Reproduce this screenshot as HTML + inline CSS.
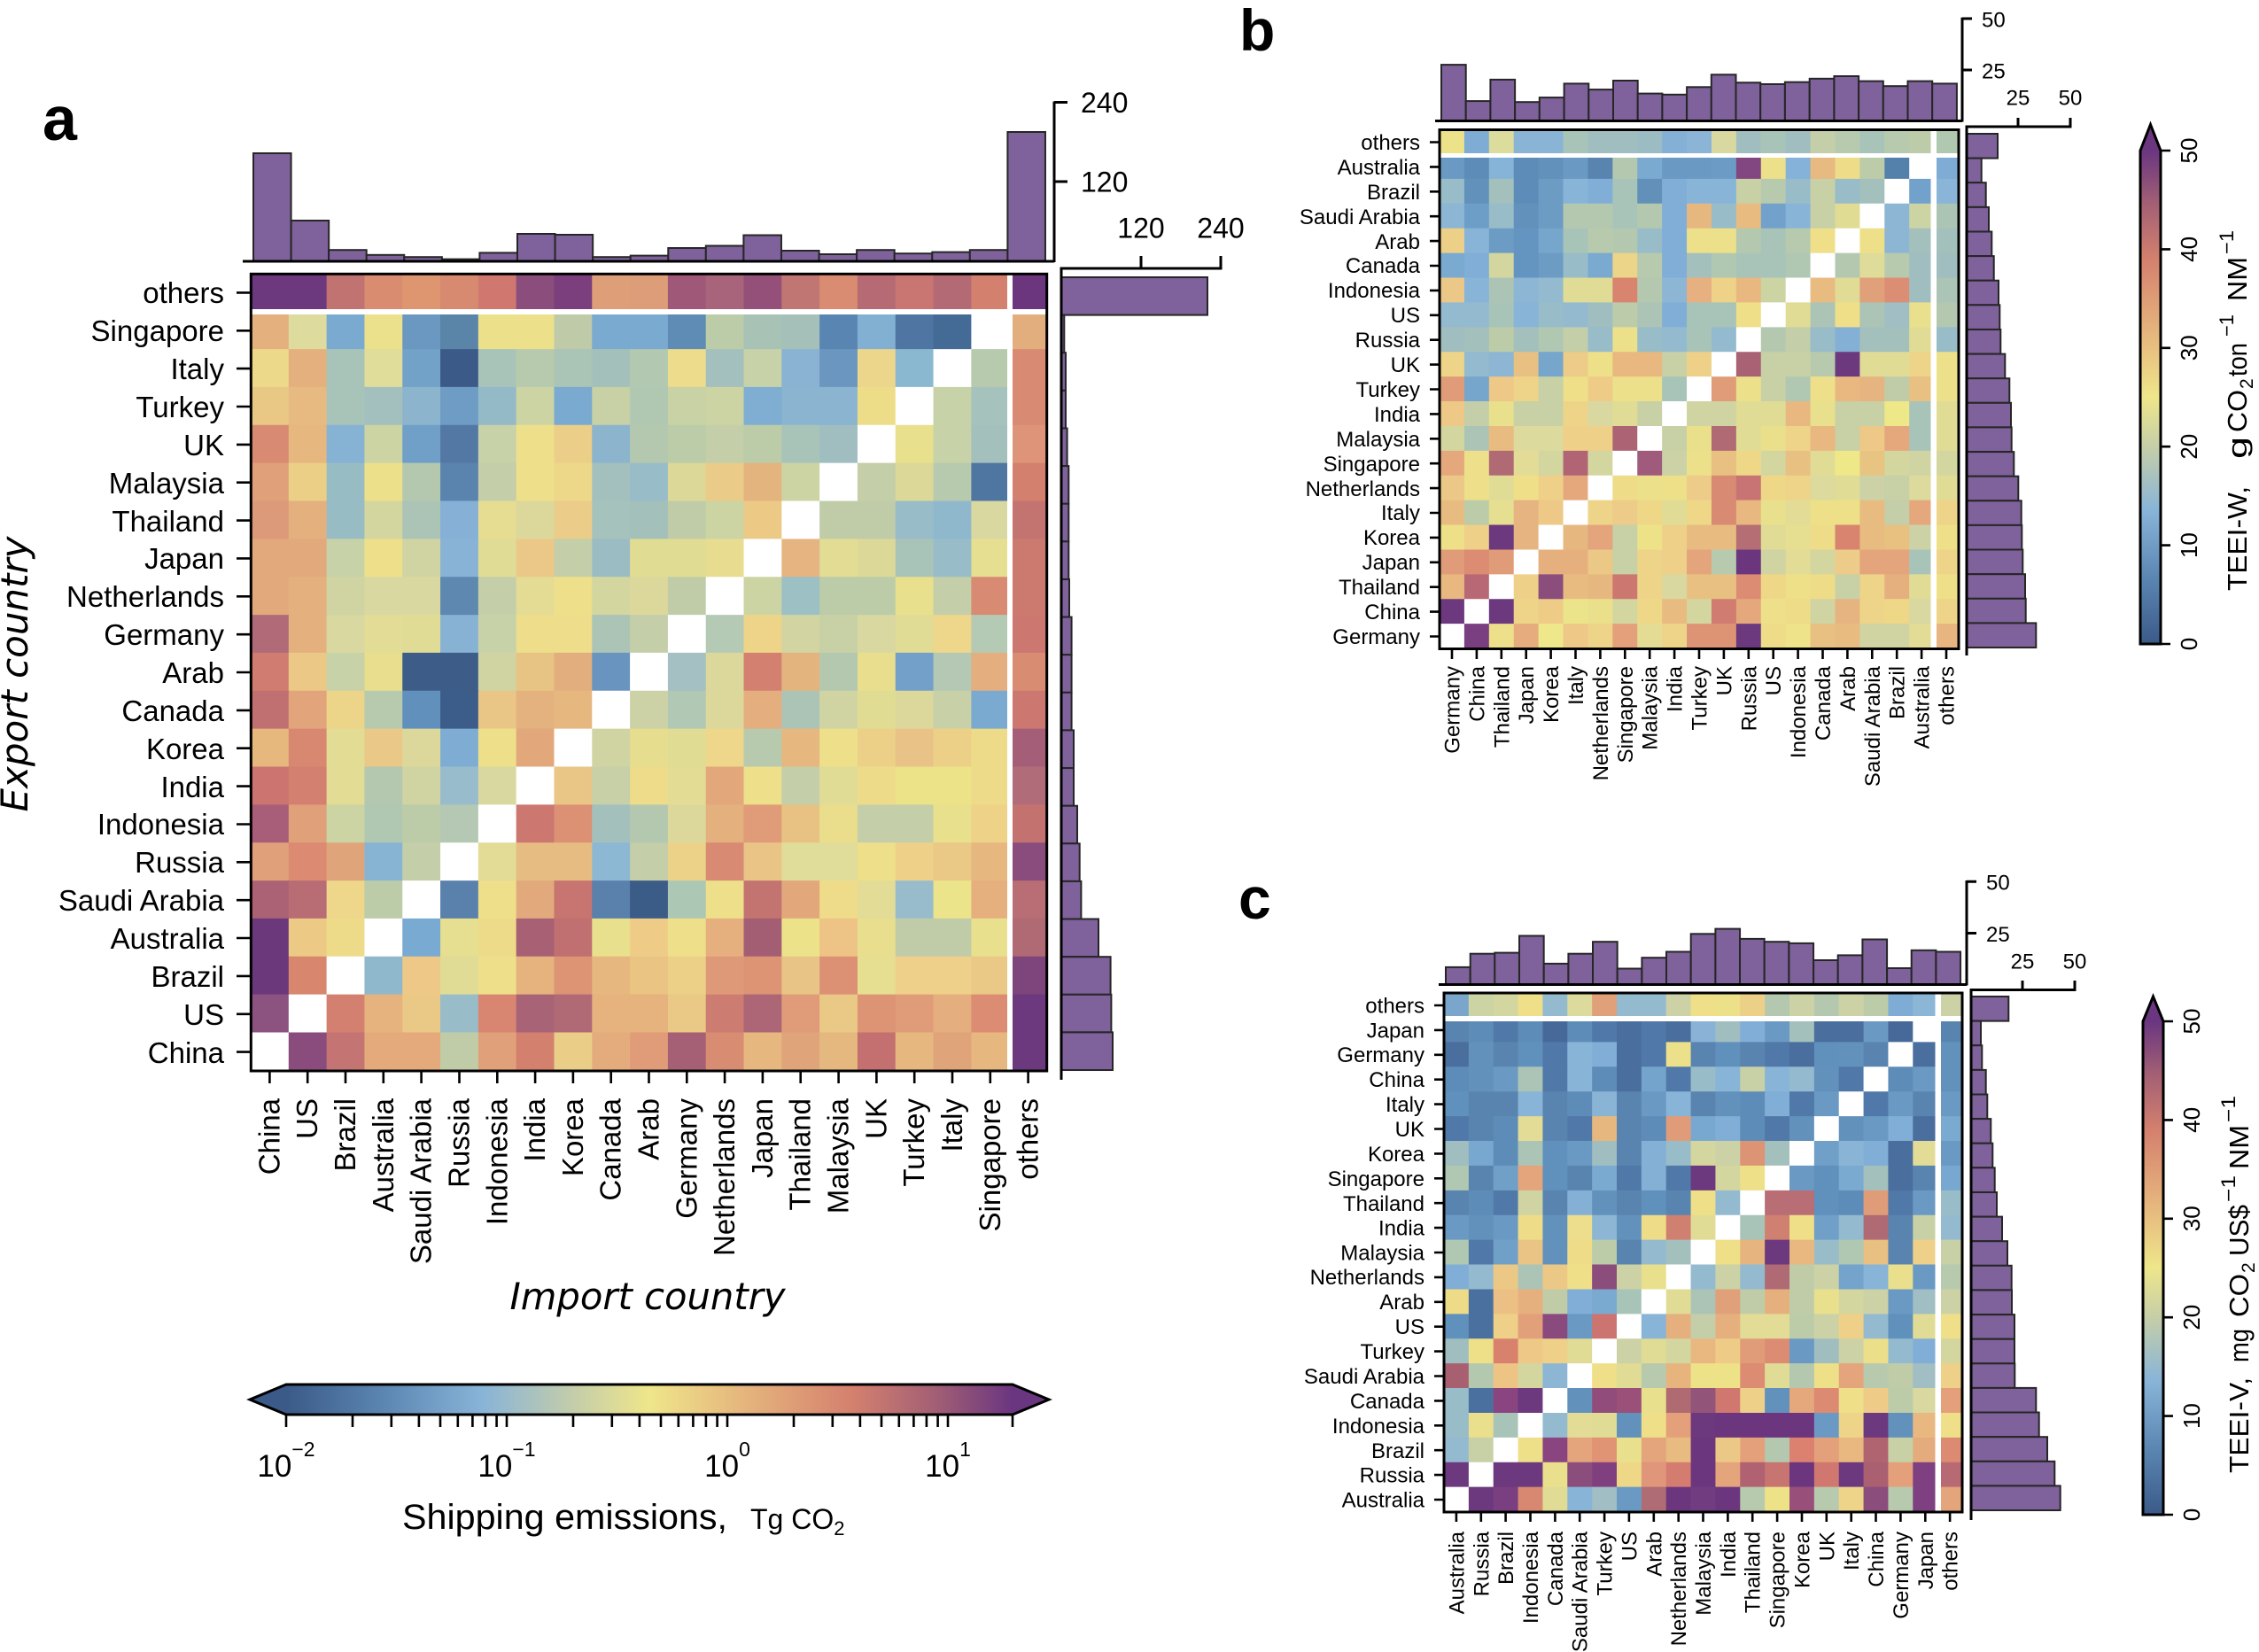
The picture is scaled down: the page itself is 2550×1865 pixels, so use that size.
<!DOCTYPE html>
<html><head><meta charset="utf-8"><style>
body{margin:0;background:#fff}
svg{display:block}
text{font-family:"Liberation Sans",Arial,Helvetica,sans-serif;fill:#000}
.hb{fill:#7f619b;stroke:#262626;stroke-width:2}
.ax{stroke:#000;fill:none;stroke-width:3}
.tk{stroke:#000;fill:none;stroke-width:2.6}
</style></head><body>
<svg width="2550" height="1865" viewBox="0 0 2550 1865" xmlns="http://www.w3.org/2000/svg">
<defs>
<linearGradient id="gh" x1="0" x2="1" y1="0" y2="0">
<stop offset="0" stop-color="#3b5a88"/><stop offset=".14" stop-color="#5d88b4"/><stop offset=".27" stop-color="#88b4d8"/><stop offset=".40" stop-color="#c6cea8"/><stop offset=".50" stop-color="#eee68a"/><stop offset=".60" stop-color="#e8c080"/><stop offset=".70" stop-color="#de9c76"/><stop offset=".78" stop-color="#d4806e"/><stop offset=".89" stop-color="#a46074"/><stop offset="1" stop-color="#6a3680"/>
</linearGradient>
<linearGradient id="gv" x1="0" x2="0" y1="1" y2="0">
<stop offset="0" stop-color="#3b5a88"/><stop offset=".14" stop-color="#5d88b4"/><stop offset=".27" stop-color="#88b4d8"/><stop offset=".40" stop-color="#c6cea8"/><stop offset=".50" stop-color="#eee68a"/><stop offset=".60" stop-color="#e8c080"/><stop offset=".70" stop-color="#de9c76"/><stop offset=".78" stop-color="#d4806e"/><stop offset=".89" stop-color="#a46074"/><stop offset="1" stop-color="#6a3680"/>
</linearGradient>
</defs>
<rect width="2550" height="1865" fill="#fff"/>

<!-- ================= PANEL A ================= -->
<text x="48" y="158" font-size="70" font-weight="bold">a</text>

<svg x="283" y="309" width="899" height="900" viewBox="0 0 21 21" preserveAspectRatio="none" stroke-width="1.03" fill="none">
<g transform="translate(0,.5)"><path d="M0 0h1.03" stroke="#6c387e"/><path d="M1 0h1.03" stroke="#6c387e"/><path d="M2 0h1.03" stroke="#c07370"/><path d="M3 0h1.03" stroke="#d98c70"/><path d="M4 0h1.03" stroke="#dd9670"/><path d="M5 0h1.03" stroke="#d88a70"/><path d="M6 0h1.03" stroke="#d07870"/><path d="M7 0h1.03" stroke="#8a4d7c"/><path d="M8 0h1.03" stroke="#7a3f7c"/><path d="M9 0h1.03" stroke="#de9f78"/><path d="M10 0h1.03" stroke="#dd9d78"/><path d="M11 0h1.03" stroke="#a05878"/><path d="M12 0h1.03" stroke="#a8647a"/><path d="M13 0h1.03" stroke="#945078"/><path d="M14 0h1.03" stroke="#c07672"/><path d="M15 0h1.03" stroke="#da8c72"/><path d="M16 0h1.03" stroke="#b56a74"/><path d="M17 0h1.03" stroke="#c97672"/><path d="M18 0h1.03" stroke="#b36a74"/><path d="M19 0h1.03" stroke="#d4806e"/><path d="M20 0h1.03" stroke="#6c367e"/></g>
<g transform="translate(0,1.5)"><path d="M0 0h1.03" stroke="#e3b07e"/><path d="M1 0h1.03" stroke="#dddc9e"/><path d="M2 0h1.03" stroke="#7aaacf"/><path d="M3 0h1.03" stroke="#ebe08c"/><path d="M4 0h1.03" stroke="#6a98c0"/><path d="M5 0h1.03" stroke="#5a84a8"/><path d="M6 0h1.03" stroke="#ede08a"/><path d="M7 0h1.03" stroke="#ede08a"/><path d="M8 0h1.03" stroke="#bfcba8"/><path d="M9 0h1.03" stroke="#7aaacf"/><path d="M10 0h1.03" stroke="#7aaacf"/><path d="M11 0h1.03" stroke="#5f8cb5"/><path d="M12 0h1.03" stroke="#bccca8"/><path d="M13 0h1.03" stroke="#a8c2b6"/><path d="M14 0h1.03" stroke="#a4c0b8"/><path d="M15 0h1.03" stroke="#5985b2"/><path d="M16 0h1.03" stroke="#82b0d3"/><path d="M17 0h1.03" stroke="#4f76a3"/><path d="M18 0h1.03" stroke="#446a96"/><path d="M19 0h1.03" stroke="#ffffff"/><path d="M20 0h1.03" stroke="#e3ae7e"/></g>
<g transform="translate(0,2.5)"><path d="M0 0h1.03" stroke="#ecd98a"/><path d="M1 0h1.03" stroke="#e4b07e"/><path d="M2 0h1.03" stroke="#a8c4b8"/><path d="M3 0h1.03" stroke="#e0dc9a"/><path d="M4 0h1.03" stroke="#72a2c8"/><path d="M5 0h1.03" stroke="#3c5a88"/><path d="M6 0h1.03" stroke="#a8c4b8"/><path d="M7 0h1.03" stroke="#b8caae"/><path d="M8 0h1.03" stroke="#aac4b6"/><path d="M9 0h1.03" stroke="#a4c0ba"/><path d="M10 0h1.03" stroke="#b2c8b0"/><path d="M11 0h1.03" stroke="#ecdc8c"/><path d="M12 0h1.03" stroke="#a4c0be"/><path d="M13 0h1.03" stroke="#c8d2a8"/><path d="M14 0h1.03" stroke="#8ab2d2"/><path d="M15 0h1.03" stroke="#6a96c0"/><path d="M16 0h1.03" stroke="#ecd68c"/><path d="M17 0h1.03" stroke="#8ab8d0"/><path d="M18 0h1.03" stroke="#ffffff"/><path d="M19 0h1.03" stroke="#b8caae"/><path d="M20 0h1.03" stroke="#d88a72"/></g>
<g transform="translate(0,3.5)"><path d="M0 0h1.03" stroke="#e9c886"/><path d="M1 0h1.03" stroke="#e6ba80"/><path d="M2 0h1.03" stroke="#a8c4b8"/><path d="M3 0h1.03" stroke="#a4c0be"/><path d="M4 0h1.03" stroke="#8cb4cc"/><path d="M5 0h1.03" stroke="#6e9cc4"/><path d="M6 0h1.03" stroke="#94bac8"/><path d="M7 0h1.03" stroke="#ccd4a4"/><path d="M8 0h1.03" stroke="#7aaacf"/><path d="M9 0h1.03" stroke="#c8d0a6"/><path d="M10 0h1.03" stroke="#b0c8b2"/><path d="M11 0h1.03" stroke="#c8d2a4"/><path d="M12 0h1.03" stroke="#ccd4a4"/><path d="M13 0h1.03" stroke="#80aed2"/><path d="M14 0h1.03" stroke="#8ab4d0"/><path d="M15 0h1.03" stroke="#8ab4d0"/><path d="M16 0h1.03" stroke="#eedd88"/><path d="M17 0h1.03" stroke="#ffffff"/><path d="M18 0h1.03" stroke="#c8d2a8"/><path d="M19 0h1.03" stroke="#a6c2bc"/><path d="M20 0h1.03" stroke="#d88a72"/></g>
<g transform="translate(0,4.5)"><path d="M0 0h1.03" stroke="#d98a72"/><path d="M1 0h1.03" stroke="#e6b880"/><path d="M2 0h1.03" stroke="#86b2d4"/><path d="M3 0h1.03" stroke="#ccd4a4"/><path d="M4 0h1.03" stroke="#70a0c8"/><path d="M5 0h1.03" stroke="#5478a4"/><path d="M6 0h1.03" stroke="#c8d2a8"/><path d="M7 0h1.03" stroke="#eee08a"/><path d="M8 0h1.03" stroke="#ebce88"/><path d="M9 0h1.03" stroke="#8cb4cc"/><path d="M10 0h1.03" stroke="#b4c8b0"/><path d="M11 0h1.03" stroke="#bccca8"/><path d="M12 0h1.03" stroke="#c4cea8"/><path d="M13 0h1.03" stroke="#bccca8"/><path d="M14 0h1.03" stroke="#a8c4b8"/><path d="M15 0h1.03" stroke="#a0bec0"/><path d="M16 0h1.03" stroke="#ffffff"/><path d="M17 0h1.03" stroke="#e8e08c"/><path d="M18 0h1.03" stroke="#c8d2a8"/><path d="M19 0h1.03" stroke="#a4c0bc"/><path d="M20 0h1.03" stroke="#dd9478"/></g>
<g transform="translate(0,5.5)"><path d="M0 0h1.03" stroke="#e0a07a"/><path d="M1 0h1.03" stroke="#ebcf86"/><path d="M2 0h1.03" stroke="#98bcc4"/><path d="M3 0h1.03" stroke="#ede08a"/><path d="M4 0h1.03" stroke="#b4c8b0"/><path d="M5 0h1.03" stroke="#5a84ae"/><path d="M6 0h1.03" stroke="#c4cea8"/><path d="M7 0h1.03" stroke="#eee08a"/><path d="M8 0h1.03" stroke="#ecd888"/><path d="M9 0h1.03" stroke="#a4c0be"/><path d="M10 0h1.03" stroke="#98bcc8"/><path d="M11 0h1.03" stroke="#dcd898"/><path d="M12 0h1.03" stroke="#eacc88"/><path d="M13 0h1.03" stroke="#e4b47e"/><path d="M14 0h1.03" stroke="#ccd4a4"/><path d="M15 0h1.03" stroke="#ffffff"/><path d="M16 0h1.03" stroke="#c4cea8"/><path d="M17 0h1.03" stroke="#dcd898"/><path d="M18 0h1.03" stroke="#b8caae"/><path d="M19 0h1.03" stroke="#4e76a0"/><path d="M20 0h1.03" stroke="#d4806e"/></g>
<g transform="translate(0,6.5)"><path d="M0 0h1.03" stroke="#dc9a7a"/><path d="M1 0h1.03" stroke="#e4b07e"/><path d="M2 0h1.03" stroke="#98bcc4"/><path d="M3 0h1.03" stroke="#d4d6a0"/><path d="M4 0h1.03" stroke="#acc4b6"/><path d="M5 0h1.03" stroke="#86b0d6"/><path d="M6 0h1.03" stroke="#e6dc92"/><path d="M7 0h1.03" stroke="#dcd89c"/><path d="M8 0h1.03" stroke="#ebcc88"/><path d="M9 0h1.03" stroke="#a6c2bc"/><path d="M10 0h1.03" stroke="#a4c0ba"/><path d="M11 0h1.03" stroke="#c0cca8"/><path d="M12 0h1.03" stroke="#ccd4a4"/><path d="M13 0h1.03" stroke="#ecca86"/><path d="M14 0h1.03" stroke="#ffffff"/><path d="M15 0h1.03" stroke="#c0cca8"/><path d="M16 0h1.03" stroke="#c0cca8"/><path d="M17 0h1.03" stroke="#98bcc8"/><path d="M18 0h1.03" stroke="#90b8cc"/><path d="M19 0h1.03" stroke="#d8d8a0"/><path d="M20 0h1.03" stroke="#c47470"/></g>
<g transform="translate(0,7.5)"><path d="M0 0h1.03" stroke="#e2aa7c"/><path d="M1 0h1.03" stroke="#e2aa7c"/><path d="M2 0h1.03" stroke="#c8d2a8"/><path d="M3 0h1.03" stroke="#eee08a"/><path d="M4 0h1.03" stroke="#d0d4a2"/><path d="M5 0h1.03" stroke="#88b2d6"/><path d="M6 0h1.03" stroke="#e0dc96"/><path d="M7 0h1.03" stroke="#ecc888"/><path d="M8 0h1.03" stroke="#c4cea8"/><path d="M9 0h1.03" stroke="#9cbcc4"/><path d="M10 0h1.03" stroke="#e0dc94"/><path d="M11 0h1.03" stroke="#e0dc94"/><path d="M12 0h1.03" stroke="#e8dc90"/><path d="M13 0h1.03" stroke="#ffffff"/><path d="M14 0h1.03" stroke="#e6b480"/><path d="M15 0h1.03" stroke="#e2dc94"/><path d="M16 0h1.03" stroke="#dcd898"/><path d="M17 0h1.03" stroke="#a8c4b8"/><path d="M18 0h1.03" stroke="#98bcc8"/><path d="M19 0h1.03" stroke="#e6de90"/><path d="M20 0h1.03" stroke="#cc7a70"/></g>
<g transform="translate(0,8.5)"><path d="M0 0h1.03" stroke="#e2aa7c"/><path d="M1 0h1.03" stroke="#e4b07e"/><path d="M2 0h1.03" stroke="#d0d4a2"/><path d="M3 0h1.03" stroke="#d8d8a0"/><path d="M4 0h1.03" stroke="#d8d8a0"/><path d="M5 0h1.03" stroke="#5e88b0"/><path d="M6 0h1.03" stroke="#c4cea8"/><path d="M7 0h1.03" stroke="#e4dc94"/><path d="M8 0h1.03" stroke="#eee08a"/><path d="M9 0h1.03" stroke="#d4d6a0"/><path d="M10 0h1.03" stroke="#dcd89c"/><path d="M11 0h1.03" stroke="#c0cca8"/><path d="M12 0h1.03" stroke="#ffffff"/><path d="M13 0h1.03" stroke="#ccd4a4"/><path d="M14 0h1.03" stroke="#9cc0c4"/><path d="M15 0h1.03" stroke="#bccca8"/><path d="M16 0h1.03" stroke="#bccca8"/><path d="M17 0h1.03" stroke="#e8e08c"/><path d="M18 0h1.03" stroke="#c4cea8"/><path d="M19 0h1.03" stroke="#d88a72"/><path d="M20 0h1.03" stroke="#cc7a70"/></g>
<g transform="translate(0,9.5)"><path d="M0 0h1.03" stroke="#b06a78"/><path d="M1 0h1.03" stroke="#e4b07e"/><path d="M2 0h1.03" stroke="#d8d8a0"/><path d="M3 0h1.03" stroke="#e2dc96"/><path d="M4 0h1.03" stroke="#e0dc96"/><path d="M5 0h1.03" stroke="#88b2d4"/><path d="M6 0h1.03" stroke="#c8d2a8"/><path d="M7 0h1.03" stroke="#eedd8a"/><path d="M8 0h1.03" stroke="#eedd8a"/><path d="M9 0h1.03" stroke="#acc4b6"/><path d="M10 0h1.03" stroke="#c4cea8"/><path d="M11 0h1.03" stroke="#ffffff"/><path d="M12 0h1.03" stroke="#b4cab4"/><path d="M13 0h1.03" stroke="#eed488"/><path d="M14 0h1.03" stroke="#d2d4a2"/><path d="M15 0h1.03" stroke="#c8d0a6"/><path d="M16 0h1.03" stroke="#d8d8a0"/><path d="M17 0h1.03" stroke="#e0dc96"/><path d="M18 0h1.03" stroke="#eed68a"/><path d="M19 0h1.03" stroke="#b4cab4"/><path d="M20 0h1.03" stroke="#cc7870"/></g>
<g transform="translate(0,10.5)"><path d="M0 0h1.03" stroke="#d07c70"/><path d="M1 0h1.03" stroke="#ecc886"/><path d="M2 0h1.03" stroke="#c8d2a8"/><path d="M3 0h1.03" stroke="#e8de8e"/><path d="M4 0h1.03" stroke="#3e5c88"/><path d="M5 0h1.03" stroke="#3e5c88"/><path d="M6 0h1.03" stroke="#d0d4a2"/><path d="M7 0h1.03" stroke="#e8c484"/><path d="M8 0h1.03" stroke="#e2ae7e"/><path d="M9 0h1.03" stroke="#6a94c0"/><path d="M10 0h1.03" stroke="#ffffff"/><path d="M11 0h1.03" stroke="#a4c0c2"/><path d="M12 0h1.03" stroke="#dcd89c"/><path d="M13 0h1.03" stroke="#d48070"/><path d="M14 0h1.03" stroke="#e4b47e"/><path d="M15 0h1.03" stroke="#b4c8b0"/><path d="M16 0h1.03" stroke="#e8de8e"/><path d="M17 0h1.03" stroke="#72a0c8"/><path d="M18 0h1.03" stroke="#b4c8b4"/><path d="M19 0h1.03" stroke="#e4ae7e"/><path d="M20 0h1.03" stroke="#d88c72"/></g>
<g transform="translate(0,11.5)"><path d="M0 0h1.03" stroke="#c07070"/><path d="M1 0h1.03" stroke="#e2a47a"/><path d="M2 0h1.03" stroke="#ecd488"/><path d="M3 0h1.03" stroke="#b8caae"/><path d="M4 0h1.03" stroke="#6290bc"/><path d="M5 0h1.03" stroke="#3c5c8a"/><path d="M6 0h1.03" stroke="#eac686"/><path d="M7 0h1.03" stroke="#e4b27e"/><path d="M8 0h1.03" stroke="#e6b880"/><path d="M9 0h1.03" stroke="#ffffff"/><path d="M10 0h1.03" stroke="#ccd2a6"/><path d="M11 0h1.03" stroke="#b0c8b4"/><path d="M12 0h1.03" stroke="#dcd89c"/><path d="M13 0h1.03" stroke="#e4ae7e"/><path d="M14 0h1.03" stroke="#acc4b6"/><path d="M15 0h1.03" stroke="#d0d4a2"/><path d="M16 0h1.03" stroke="#e0dc94"/><path d="M17 0h1.03" stroke="#dcd89c"/><path d="M18 0h1.03" stroke="#c8d0a8"/><path d="M19 0h1.03" stroke="#7aaad0"/><path d="M20 0h1.03" stroke="#cc7870"/></g>
<g transform="translate(0,12.5)"><path d="M0 0h1.03" stroke="#e6b87e"/><path d="M1 0h1.03" stroke="#d88870"/><path d="M2 0h1.03" stroke="#e2dc94"/><path d="M3 0h1.03" stroke="#eac888"/><path d="M4 0h1.03" stroke="#dcd89c"/><path d="M5 0h1.03" stroke="#7eacd2"/><path d="M6 0h1.03" stroke="#eedf8a"/><path d="M7 0h1.03" stroke="#e2a87c"/><path d="M8 0h1.03" stroke="#ffffff"/><path d="M9 0h1.03" stroke="#d0d4a2"/><path d="M10 0h1.03" stroke="#e6de8e"/><path d="M11 0h1.03" stroke="#e0dc94"/><path d="M12 0h1.03" stroke="#eed68a"/><path d="M13 0h1.03" stroke="#b8caae"/><path d="M14 0h1.03" stroke="#e6b880"/><path d="M15 0h1.03" stroke="#eedf8a"/><path d="M16 0h1.03" stroke="#ecd088"/><path d="M17 0h1.03" stroke="#e8c286"/><path d="M18 0h1.03" stroke="#ecd088"/><path d="M19 0h1.03" stroke="#eedb8a"/><path d="M20 0h1.03" stroke="#a45e78"/></g>
<g transform="translate(0,13.5)"><path d="M0 0h1.03" stroke="#cc7470"/><path d="M1 0h1.03" stroke="#d48070"/><path d="M2 0h1.03" stroke="#e2dc94"/><path d="M3 0h1.03" stroke="#b4c8b0"/><path d="M4 0h1.03" stroke="#d0d4a2"/><path d="M5 0h1.03" stroke="#98bccc"/><path d="M6 0h1.03" stroke="#d8d8a0"/><path d="M7 0h1.03" stroke="#ffffff"/><path d="M8 0h1.03" stroke="#eac686"/><path d="M9 0h1.03" stroke="#c8d0a8"/><path d="M10 0h1.03" stroke="#eedc8a"/><path d="M11 0h1.03" stroke="#e2dc94"/><path d="M12 0h1.03" stroke="#e2a87c"/><path d="M13 0h1.03" stroke="#eedf8a"/><path d="M14 0h1.03" stroke="#c4cea8"/><path d="M15 0h1.03" stroke="#e0dc96"/><path d="M16 0h1.03" stroke="#eedb8a"/><path d="M17 0h1.03" stroke="#ece288"/><path d="M18 0h1.03" stroke="#ece288"/><path d="M19 0h1.03" stroke="#eedb8a"/><path d="M20 0h1.03" stroke="#b06c78"/></g>
<g transform="translate(0,14.5)"><path d="M0 0h1.03" stroke="#a85e78"/><path d="M1 0h1.03" stroke="#e0a07a"/><path d="M2 0h1.03" stroke="#ccd4a4"/><path d="M3 0h1.03" stroke="#b0c8b2"/><path d="M4 0h1.03" stroke="#bccca8"/><path d="M5 0h1.03" stroke="#b4c8b4"/><path d="M6 0h1.03" stroke="#ffffff"/><path d="M7 0h1.03" stroke="#cc7870"/><path d="M8 0h1.03" stroke="#dc9074"/><path d="M9 0h1.03" stroke="#a4c0bc"/><path d="M10 0h1.03" stroke="#b4c8b0"/><path d="M11 0h1.03" stroke="#dcd89c"/><path d="M12 0h1.03" stroke="#e4b07e"/><path d="M13 0h1.03" stroke="#e09c78"/><path d="M14 0h1.03" stroke="#e8c282"/><path d="M15 0h1.03" stroke="#eadd8c"/><path d="M16 0h1.03" stroke="#c4cea8"/><path d="M17 0h1.03" stroke="#c4cea8"/><path d="M18 0h1.03" stroke="#e8e08c"/><path d="M19 0h1.03" stroke="#eed288"/><path d="M20 0h1.03" stroke="#c47270"/></g>
<g transform="translate(0,15.5)"><path d="M0 0h1.03" stroke="#e0a07a"/><path d="M1 0h1.03" stroke="#dc8a72"/><path d="M2 0h1.03" stroke="#e0a47a"/><path d="M3 0h1.03" stroke="#88b4d4"/><path d="M4 0h1.03" stroke="#c4cea8"/><path d="M5 0h1.03" stroke="#ffffff"/><path d="M6 0h1.03" stroke="#e2dc96"/><path d="M7 0h1.03" stroke="#e6bc82"/><path d="M8 0h1.03" stroke="#e6bc82"/><path d="M9 0h1.03" stroke="#8cb8d4"/><path d="M10 0h1.03" stroke="#c4cea8"/><path d="M11 0h1.03" stroke="#ecd288"/><path d="M12 0h1.03" stroke="#d88a72"/><path d="M13 0h1.03" stroke="#eac486"/><path d="M14 0h1.03" stroke="#e0dc9a"/><path d="M15 0h1.03" stroke="#e0dc9a"/><path d="M16 0h1.03" stroke="#eedf8a"/><path d="M17 0h1.03" stroke="#eed088"/><path d="M18 0h1.03" stroke="#eac886"/><path d="M19 0h1.03" stroke="#e6b880"/><path d="M20 0h1.03" stroke="#8a4c7c"/></g>
<g transform="translate(0,16.5)"><path d="M0 0h1.03" stroke="#aa6274"/><path d="M1 0h1.03" stroke="#b86c74"/><path d="M2 0h1.03" stroke="#eed68a"/><path d="M3 0h1.03" stroke="#bccca8"/><path d="M4 0h1.03" stroke="#ffffff"/><path d="M5 0h1.03" stroke="#5a80ac"/><path d="M6 0h1.03" stroke="#eedf8a"/><path d="M7 0h1.03" stroke="#e2aa7c"/><path d="M8 0h1.03" stroke="#c87470"/><path d="M9 0h1.03" stroke="#5a80ac"/><path d="M10 0h1.03" stroke="#3c5c88"/><path d="M11 0h1.03" stroke="#acc8b4"/><path d="M12 0h1.03" stroke="#eee08a"/><path d="M13 0h1.03" stroke="#c47470"/><path d="M14 0h1.03" stroke="#e2a87c"/><path d="M15 0h1.03" stroke="#eedc8a"/><path d="M16 0h1.03" stroke="#e2dc96"/><path d="M17 0h1.03" stroke="#98bccc"/><path d="M18 0h1.03" stroke="#ece48a"/><path d="M19 0h1.03" stroke="#e6b07e"/><path d="M20 0h1.03" stroke="#b86e74"/></g>
<g transform="translate(0,17.5)"><path d="M0 0h1.03" stroke="#6c387c"/><path d="M1 0h1.03" stroke="#ecca86"/><path d="M2 0h1.03" stroke="#eedb8a"/><path d="M3 0h1.03" stroke="#ffffff"/><path d="M4 0h1.03" stroke="#78aad2"/><path d="M5 0h1.03" stroke="#e6de90"/><path d="M6 0h1.03" stroke="#eedb8a"/><path d="M7 0h1.03" stroke="#a86074"/><path d="M8 0h1.03" stroke="#c07070"/><path d="M9 0h1.03" stroke="#e8e08c"/><path d="M10 0h1.03" stroke="#eecc88"/><path d="M11 0h1.03" stroke="#eee08a"/><path d="M12 0h1.03" stroke="#e6b07e"/><path d="M13 0h1.03" stroke="#a45e74"/><path d="M14 0h1.03" stroke="#ece28a"/><path d="M15 0h1.03" stroke="#eec486"/><path d="M16 0h1.03" stroke="#e8de8e"/><path d="M17 0h1.03" stroke="#c0cca8"/><path d="M18 0h1.03" stroke="#c0cca8"/><path d="M19 0h1.03" stroke="#e8e08c"/><path d="M20 0h1.03" stroke="#b06a74"/></g>
<g transform="translate(0,18.5)"><path d="M0 0h1.03" stroke="#6c387c"/><path d="M1 0h1.03" stroke="#d8866e"/><path d="M2 0h1.03" stroke="#ffffff"/><path d="M3 0h1.03" stroke="#90b8cc"/><path d="M4 0h1.03" stroke="#eec886"/><path d="M5 0h1.03" stroke="#e0dc96"/><path d="M6 0h1.03" stroke="#eedf8a"/><path d="M7 0h1.03" stroke="#e6b27e"/><path d="M8 0h1.03" stroke="#dc9474"/><path d="M9 0h1.03" stroke="#e6b880"/><path d="M10 0h1.03" stroke="#eac483"/><path d="M11 0h1.03" stroke="#ecd088"/><path d="M12 0h1.03" stroke="#de9a78"/><path d="M13 0h1.03" stroke="#dc9474"/><path d="M14 0h1.03" stroke="#e8c486"/><path d="M15 0h1.03" stroke="#dc9074"/><path d="M16 0h1.03" stroke="#e6de90"/><path d="M17 0h1.03" stroke="#eed08a"/><path d="M18 0h1.03" stroke="#eed08a"/><path d="M19 0h1.03" stroke="#eac886"/><path d="M20 0h1.03" stroke="#7e447c"/></g>
<g transform="translate(0,19.5)"><path d="M0 0h1.03" stroke="#8c5280"/><path d="M1 0h1.03" stroke="#ffffff"/><path d="M2 0h1.03" stroke="#d48070"/><path d="M3 0h1.03" stroke="#e6b27e"/><path d="M4 0h1.03" stroke="#eac886"/><path d="M5 0h1.03" stroke="#98bcc8"/><path d="M6 0h1.03" stroke="#d88672"/><path d="M7 0h1.03" stroke="#a86476"/><path d="M8 0h1.03" stroke="#b06a76"/><path d="M9 0h1.03" stroke="#e6b27e"/><path d="M10 0h1.03" stroke="#e6b27e"/><path d="M11 0h1.03" stroke="#eac886"/><path d="M12 0h1.03" stroke="#cc7c70"/><path d="M13 0h1.03" stroke="#ac6676"/><path d="M14 0h1.03" stroke="#e09c78"/><path d="M15 0h1.03" stroke="#eac886"/><path d="M16 0h1.03" stroke="#dc9474"/><path d="M17 0h1.03" stroke="#e09c78"/><path d="M18 0h1.03" stroke="#e4ae7e"/><path d="M19 0h1.03" stroke="#dc8c72"/><path d="M20 0h1.03" stroke="#6c387e"/></g>
<g transform="translate(0,20.5)"><path d="M0 0h1.03" stroke="#ffffff"/><path d="M1 0h1.03" stroke="#8a4c7c"/><path d="M2 0h1.03" stroke="#c47472"/><path d="M3 0h1.03" stroke="#e4aa7c"/><path d="M4 0h1.03" stroke="#e4aa7c"/><path d="M5 0h1.03" stroke="#c0cca8"/><path d="M6 0h1.03" stroke="#e0a07a"/><path d="M7 0h1.03" stroke="#d4806e"/><path d="M8 0h1.03" stroke="#eace88"/><path d="M9 0h1.03" stroke="#e4ac7c"/><path d="M10 0h1.03" stroke="#e09c78"/><path d="M11 0h1.03" stroke="#a66076"/><path d="M12 0h1.03" stroke="#d88c72"/><path d="M13 0h1.03" stroke="#e6b880"/><path d="M14 0h1.03" stroke="#e0a47a"/><path d="M15 0h1.03" stroke="#e4b87e"/><path d="M16 0h1.03" stroke="#c47070"/><path d="M17 0h1.03" stroke="#e6b880"/><path d="M18 0h1.03" stroke="#e0a47a"/><path d="M19 0h1.03" stroke="#e6b880"/><path d="M20 0h1.03" stroke="#6c387e"/></g>
</svg>
<rect x="1137" y="309" width="6" height="900" fill="#fff"/>
<rect x="283" y="349" width="899" height="6" fill="#fff"/>
<rect x="283.3" y="309.3" width="898.4" height="899.7" class="ax" stroke-width="3.4"/>

<!-- a left ticks & labels -->
<path class="tk" d="M267 330.4H282M267 373.3H282M267 416.1H282M267 459H282M267 501.9H282M267 544.7H282M267 587.6H282M267 630.4H282M267 673.3H282M267 716.2H282M267 759H282M267 801.9H282M267 844.7H282M267 887.6H282M267 930.5H282M267 973.3H282M267 1016.2H282M267 1059H282M267 1101.9H282M267 1144.8H282M267 1187.6H282"/>
<g font-size="33" text-anchor="end">
<text x="253" y="342">others</text><text x="253" y="385">Singapore</text><text x="253" y="428">Italy</text><text x="253" y="471">Turkey</text><text x="253" y="514">UK</text><text x="253" y="557">Malaysia</text><text x="253" y="600">Thailand</text><text x="253" y="642">Japan</text><text x="253" y="685">Netherlands</text><text x="253" y="728">Germany</text><text x="253" y="771">Arab</text><text x="253" y="814">Canada</text><text x="253" y="857">Korea</text><text x="253" y="900">India</text><text x="253" y="942">Indonesia</text><text x="253" y="985">Russia</text><text x="253" y="1028">Saudi Arabia</text><text x="253" y="1071">Australia</text><text x="253" y="1114">Brazil</text><text x="253" y="1157">US</text><text x="253" y="1200">China</text>
</g>
<!-- a bottom ticks & labels -->
<path class="tk" d="M304.4 1210V1223M347.2 1210V1223M390 1210V1223M432.8 1210V1223M475.6 1210V1223M518.5 1210V1223M561.3 1210V1223M604.1 1210V1223M646.9 1210V1223M689.7 1210V1223M732.5 1210V1223M775.3 1210V1223M818.1 1210V1223M860.9 1210V1223M903.7 1210V1223M946.6 1210V1223M989.4 1210V1223M1032.2 1210V1223M1075 1210V1223M1117.8 1210V1223M1160.6 1210V1223"/>
<g font-size="33" text-anchor="end">
<text transform="translate(315.4,1240) rotate(-90)">China</text><text transform="translate(358.2,1240) rotate(-90)">US</text><text transform="translate(401,1240) rotate(-90)">Brazil</text><text transform="translate(443.8,1240) rotate(-90)">Australia</text><text transform="translate(486.6,1240) rotate(-90)">Saudi Arabia</text><text transform="translate(529.5,1240) rotate(-90)">Russia</text><text transform="translate(572.3,1240) rotate(-90)">Indonesia</text><text transform="translate(615.1,1240) rotate(-90)">India</text><text transform="translate(657.9,1240) rotate(-90)">Korea</text><text transform="translate(700.7,1240) rotate(-90)">Canada</text><text transform="translate(743.5,1240) rotate(-90)">Arab</text><text transform="translate(786.3,1240) rotate(-90)">Germany</text><text transform="translate(829.1,1240) rotate(-90)">Netherlands</text><text transform="translate(871.9,1240) rotate(-90)">Japan</text><text transform="translate(914.7,1240) rotate(-90)">Thailand</text><text transform="translate(957.6,1240) rotate(-90)">Malaysia</text><text transform="translate(1000.4,1240) rotate(-90)">UK</text><text transform="translate(1043.2,1240) rotate(-90)">Turkey</text><text transform="translate(1086,1240) rotate(-90)">Italy</text><text transform="translate(1128.8,1240) rotate(-90)">Singapore</text><text transform="translate(1171.6,1240) rotate(-90)">others</text>
</g>

<!-- a top histogram -->
<g class="hb">
<rect x="286" y="173" width="42.57" height="122"/><rect x="328.6" y="249" width="42.57" height="46"/><rect x="371.1" y="282.2" width="42.57" height="12.8"/><rect x="413.7" y="287.8" width="42.57" height="7.2"/><rect x="456.3" y="290.2" width="42.57" height="4.8"/><rect x="498.9" y="292.6" width="42.57" height="2.4"/><rect x="541.4" y="285.4" width="42.57" height="9.6"/><rect x="584" y="264" width="42.57" height="31"/><rect x="626.6" y="265" width="42.57" height="30"/><rect x="669.1" y="290.2" width="42.57" height="4.8"/><rect x="711.7" y="288.6" width="42.57" height="6.4"/><rect x="754.3" y="280" width="42.57" height="15"/><rect x="796.8" y="277.5" width="42.57" height="17.5"/><rect x="839.4" y="265.5" width="42.57" height="29.5"/><rect x="882" y="283" width="42.57" height="12"/><rect x="924.6" y="287" width="42.57" height="8"/><rect x="967.1" y="282.2" width="42.57" height="12.8"/><rect x="1009.7" y="286.2" width="42.57" height="8.8"/><rect x="1052.3" y="284.6" width="42.57" height="10.4"/><rect x="1094.8" y="282.2" width="42.57" height="12.8"/><rect x="1137.4" y="149" width="42.57" height="146"/>
</g>
<path class="ax" d="M274 295H1190M1190 296V114.5M1190 115.5H1205M1190 205H1205"/>
<g font-size="32"><text x="1220" y="127">240</text><text x="1220" y="216.5">120</text></g>

<!-- a right histogram -->
<g class="hb">
<rect x="1198" y="313" width="165" height="42.62"/><rect x="1198" y="355.6" width="3.3" height="42.62"/><rect x="1198" y="398.2" width="5" height="42.62"/><rect x="1198" y="440.9" width="5" height="42.62"/><rect x="1198" y="483.5" width="6.6" height="42.62"/><rect x="1198" y="526.1" width="8.3" height="42.62"/><rect x="1198" y="568.7" width="8.3" height="42.62"/><rect x="1198" y="611.3" width="8.3" height="42.62"/><rect x="1198" y="654" width="9" height="42.62"/><rect x="1198" y="696.6" width="11.6" height="42.62"/><rect x="1198" y="739.2" width="11.6" height="42.62"/><rect x="1198" y="781.8" width="11.6" height="42.62"/><rect x="1198" y="824.4" width="14" height="42.62"/><rect x="1198" y="867.1" width="14" height="42.62"/><rect x="1198" y="909.7" width="18" height="42.62"/><rect x="1198" y="952.3" width="20.7" height="42.62"/><rect x="1198" y="994.9" width="22.4" height="42.62"/><rect x="1198" y="1037.5" width="42" height="42.62"/><rect x="1198" y="1080.2" width="55.6" height="42.62"/><rect x="1198" y="1122.8" width="56.4" height="42.62"/><rect x="1198" y="1165.4" width="58" height="42.62"/>
</g>
<path class="ax" d="M1198 1219V303H1379.5M1288 303V289M1378 304V289"/>
<g font-size="32" text-anchor="middle"><text x="1288" y="268.5">120</text><text x="1378" y="268.5">240</text></g>

<!-- a axis titles -->
<text x="731" y="1478" font-size="42" text-anchor="middle" textLength="311" lengthAdjust="spacingAndGlyphs" style="font-family:'DejaVu Sans',sans-serif;font-style:italic">Import country</text>
<text transform="translate(31,761) rotate(-90)" font-size="42" text-anchor="middle" textLength="311" lengthAdjust="spacingAndGlyphs" style="font-family:'DejaVu Sans',sans-serif;font-style:italic">Export country</text>

<!-- a colorbar -->
<rect x="323" y="1563" width="820" height="34" fill="url(#gh)"/>
<polygon points="323,1563 282,1580 323,1597" fill="#3b5a88"/>
<polygon points="1143,1563 1184,1580 1143,1597" fill="#6a3680"/>
<path class="ax" d="M323 1563H1143L1184 1580L1143 1597H323L282 1580Z"/>
<path class="tk" d="M323 1597V1611M398 1597V1611M441.8 1597V1611M472.9 1597V1611M497 1597V1611M516.8 1597V1611M533.4 1597V1611M547.9 1597V1611M560.6 1597V1611M572 1597V1611M647 1597V1611M690.8 1597V1611M721.9 1597V1611M746 1597V1611M765.8 1597V1611M782.4 1597V1611M796.9 1597V1611M809.6 1597V1611M821 1597V1611M896 1597V1611M939.8 1597V1611M970.9 1597V1611M995 1597V1611M1014.8 1597V1611M1031.4 1597V1611M1045.9 1597V1611M1058.6 1597V1611M1070 1597V1611M1143 1597V1611"/>
<g font-size="35" text-anchor="middle">
<text x="323" y="1667">10<tspan font-size="23" dy="-23">−2</tspan></text>
<text x="572" y="1667">10<tspan font-size="23" dy="-23">−1</tspan></text>
<text x="821" y="1667">10<tspan font-size="23" dy="-23">0</tspan></text>
<text x="1070" y="1667">10<tspan font-size="23" dy="-23">1</tspan></text>
</g>
<text x="454" y="1726" font-size="40" textLength="367" lengthAdjust="spacingAndGlyphs">Shipping emissions,</text>
<text x="847" y="1726" font-size="32">Tg CO<tspan font-size="22" dy="7">2</tspan></text>

<!-- ================= PANEL B ================= -->
<text x="1399" y="57" font-size="66" font-weight="bold">b</text>

<svg x="1625" y="146.5" width="586" height="586" viewBox="0 0 21 21" preserveAspectRatio="none" stroke-width="1.03" fill="none">
<g transform="translate(0,.5)"><path d="M0 0h1.03" stroke="#ece28a"/><path d="M1 0h1.03" stroke="#7eacd4"/><path d="M2 0h1.03" stroke="#dcdc9c"/><path d="M3 0h1.03" stroke="#8ab4d6"/><path d="M4 0h1.03" stroke="#8ab4d6"/><path d="M5 0h1.03" stroke="#a8c4b8"/><path d="M6 0h1.03" stroke="#a0bec0"/><path d="M7 0h1.03" stroke="#a0bec0"/><path d="M8 0h1.03" stroke="#9cbcc4"/><path d="M9 0h1.03" stroke="#84b0d6"/><path d="M10 0h1.03" stroke="#8cb4d6"/><path d="M11 0h1.03" stroke="#d8d8a0"/><path d="M12 0h1.03" stroke="#a0bec0"/><path d="M13 0h1.03" stroke="#a8c4b8"/><path d="M14 0h1.03" stroke="#a0bec0"/><path d="M15 0h1.03" stroke="#c4cea8"/><path d="M16 0h1.03" stroke="#b8caae"/><path d="M17 0h1.03" stroke="#a8c4b8"/><path d="M18 0h1.03" stroke="#b8caae"/><path d="M19 0h1.03" stroke="#bccca8"/><path d="M20 0h1.03" stroke="#b0c8b0"/></g>
<g transform="translate(0,1.5)"><path d="M0 0h1.03" stroke="#6a9ac4"/><path d="M1 0h1.03" stroke="#5e8cb8"/><path d="M2 0h1.03" stroke="#86b4d8"/><path d="M3 0h1.03" stroke="#5e8cb8"/><path d="M4 0h1.03" stroke="#6292bc"/><path d="M5 0h1.03" stroke="#6a9ac4"/><path d="M6 0h1.03" stroke="#5a84b0"/><path d="M7 0h1.03" stroke="#b4c8b0"/><path d="M8 0h1.03" stroke="#7aaad0"/><path d="M9 0h1.03" stroke="#6a9ac4"/><path d="M10 0h1.03" stroke="#6a9ac4"/><path d="M11 0h1.03" stroke="#6c9cc6"/><path d="M12 0h1.03" stroke="#824680"/><path d="M13 0h1.03" stroke="#ece08a"/><path d="M14 0h1.03" stroke="#84b2d8"/><path d="M15 0h1.03" stroke="#e6ba80"/><path d="M16 0h1.03" stroke="#eedc88"/><path d="M17 0h1.03" stroke="#bccca8"/><path d="M18 0h1.03" stroke="#5480ac"/><path d="M19 0h1.03" stroke="#ffffff"/><path d="M20 0h1.03" stroke="#7eacd4"/></g>
<g transform="translate(0,2.5)"><path d="M0 0h1.03" stroke="#98bcc8"/><path d="M1 0h1.03" stroke="#6292bc"/><path d="M2 0h1.03" stroke="#a4c0bc"/><path d="M3 0h1.03" stroke="#5e8cb8"/><path d="M4 0h1.03" stroke="#6c9cc4"/><path d="M5 0h1.03" stroke="#88b4d8"/><path d="M6 0h1.03" stroke="#80aed6"/><path d="M7 0h1.03" stroke="#a8c4b8"/><path d="M8 0h1.03" stroke="#6290b8"/><path d="M9 0h1.03" stroke="#80aed6"/><path d="M10 0h1.03" stroke="#88b4d8"/><path d="M11 0h1.03" stroke="#88b4d8"/><path d="M12 0h1.03" stroke="#c8d0a6"/><path d="M13 0h1.03" stroke="#b8caae"/><path d="M14 0h1.03" stroke="#98bcc8"/><path d="M15 0h1.03" stroke="#c8d0a6"/><path d="M16 0h1.03" stroke="#98bcc8"/><path d="M17 0h1.03" stroke="#a4c0bc"/><path d="M18 0h1.03" stroke="#ffffff"/><path d="M19 0h1.03" stroke="#72a2cc"/><path d="M20 0h1.03" stroke="#8ab4d8"/></g>
<g transform="translate(0,3.5)"><path d="M0 0h1.03" stroke="#8cb6d4"/><path d="M1 0h1.03" stroke="#6c9ec8"/><path d="M2 0h1.03" stroke="#98bcc8"/><path d="M3 0h1.03" stroke="#6292bc"/><path d="M4 0h1.03" stroke="#6c9cc4"/><path d="M5 0h1.03" stroke="#b4c8b0"/><path d="M6 0h1.03" stroke="#b4c8b0"/><path d="M7 0h1.03" stroke="#a8c4b8"/><path d="M8 0h1.03" stroke="#b4c8b0"/><path d="M9 0h1.03" stroke="#80aed6"/><path d="M10 0h1.03" stroke="#e6b880"/><path d="M11 0h1.03" stroke="#98bcc8"/><path d="M12 0h1.03" stroke="#e8bc80"/><path d="M13 0h1.03" stroke="#72a2cc"/><path d="M14 0h1.03" stroke="#88b4d8"/><path d="M15 0h1.03" stroke="#c8d0a6"/><path d="M16 0h1.03" stroke="#e0dc94"/><path d="M17 0h1.03" stroke="#ffffff"/><path d="M18 0h1.03" stroke="#8cb6d4"/><path d="M19 0h1.03" stroke="#ccd4a4"/><path d="M20 0h1.03" stroke="#acc4b4"/></g>
<g transform="translate(0,4.5)"><path d="M0 0h1.03" stroke="#ecd088"/><path d="M1 0h1.03" stroke="#88b4d8"/><path d="M2 0h1.03" stroke="#6c9cc4"/><path d="M3 0h1.03" stroke="#6494c0"/><path d="M4 0h1.03" stroke="#76a6cc"/><path d="M5 0h1.03" stroke="#a8c4b8"/><path d="M6 0h1.03" stroke="#b8caae"/><path d="M7 0h1.03" stroke="#b4c8b0"/><path d="M8 0h1.03" stroke="#98bcc8"/><path d="M9 0h1.03" stroke="#80aed6"/><path d="M10 0h1.03" stroke="#ece08a"/><path d="M11 0h1.03" stroke="#ece08a"/><path d="M12 0h1.03" stroke="#b4c8b0"/><path d="M13 0h1.03" stroke="#a8c4b8"/><path d="M14 0h1.03" stroke="#b8caae"/><path d="M15 0h1.03" stroke="#eedf88"/><path d="M16 0h1.03" stroke="#ffffff"/><path d="M17 0h1.03" stroke="#ede088"/><path d="M18 0h1.03" stroke="#8cb6d4"/><path d="M19 0h1.03" stroke="#a4c0bc"/><path d="M20 0h1.03" stroke="#a4c0bc"/></g>
<g transform="translate(0,5.5)"><path d="M0 0h1.03" stroke="#7aaad0"/><path d="M1 0h1.03" stroke="#80aed6"/><path d="M2 0h1.03" stroke="#d4d6a0"/><path d="M3 0h1.03" stroke="#6494c0"/><path d="M4 0h1.03" stroke="#6c9cc4"/><path d="M5 0h1.03" stroke="#98bcc8"/><path d="M6 0h1.03" stroke="#7aaad0"/><path d="M7 0h1.03" stroke="#ecd488"/><path d="M8 0h1.03" stroke="#b8caae"/><path d="M9 0h1.03" stroke="#80aed6"/><path d="M10 0h1.03" stroke="#a4c0bc"/><path d="M11 0h1.03" stroke="#b0c8b2"/><path d="M12 0h1.03" stroke="#a8c4b8"/><path d="M13 0h1.03" stroke="#a8c4b8"/><path d="M14 0h1.03" stroke="#b0c8b2"/><path d="M15 0h1.03" stroke="#ffffff"/><path d="M16 0h1.03" stroke="#b4c8b0"/><path d="M17 0h1.03" stroke="#dedc98"/><path d="M18 0h1.03" stroke="#b8caae"/><path d="M19 0h1.03" stroke="#a0bec0"/><path d="M20 0h1.03" stroke="#a0bec0"/></g>
<g transform="translate(0,6.5)"><path d="M0 0h1.03" stroke="#ecc888"/><path d="M1 0h1.03" stroke="#88b4d8"/><path d="M2 0h1.03" stroke="#acc4b6"/><path d="M3 0h1.03" stroke="#8cb6d4"/><path d="M4 0h1.03" stroke="#94bad0"/><path d="M5 0h1.03" stroke="#e0dc96"/><path d="M6 0h1.03" stroke="#e0dc96"/><path d="M7 0h1.03" stroke="#d8846e"/><path d="M8 0h1.03" stroke="#b4c8b0"/><path d="M9 0h1.03" stroke="#8cb6d4"/><path d="M10 0h1.03" stroke="#e6b080"/><path d="M11 0h1.03" stroke="#eed288"/><path d="M12 0h1.03" stroke="#e8b880"/><path d="M13 0h1.03" stroke="#ccd4a4"/><path d="M14 0h1.03" stroke="#ffffff"/><path d="M15 0h1.03" stroke="#e8bc80"/><path d="M16 0h1.03" stroke="#e0dc96"/><path d="M17 0h1.03" stroke="#e0a07a"/><path d="M18 0h1.03" stroke="#dc8e74"/><path d="M19 0h1.03" stroke="#a0bec0"/><path d="M20 0h1.03" stroke="#acc4b6"/></g>
<g transform="translate(0,7.5)"><path d="M0 0h1.03" stroke="#94bad0"/><path d="M1 0h1.03" stroke="#94bad0"/><path d="M2 0h1.03" stroke="#a8c4b8"/><path d="M3 0h1.03" stroke="#88b4d8"/><path d="M4 0h1.03" stroke="#98bcc8"/><path d="M5 0h1.03" stroke="#94bad0"/><path d="M6 0h1.03" stroke="#a0bec0"/><path d="M7 0h1.03" stroke="#bcccaa"/><path d="M8 0h1.03" stroke="#acc4b6"/><path d="M9 0h1.03" stroke="#80aed6"/><path d="M10 0h1.03" stroke="#a8c4b8"/><path d="M11 0h1.03" stroke="#a8c4b8"/><path d="M12 0h1.03" stroke="#eedf88"/><path d="M13 0h1.03" stroke="#ffffff"/><path d="M14 0h1.03" stroke="#e0dc96"/><path d="M15 0h1.03" stroke="#acc4b6"/><path d="M16 0h1.03" stroke="#eedf88"/><path d="M17 0h1.03" stroke="#acc4b6"/><path d="M18 0h1.03" stroke="#a0bec4"/><path d="M19 0h1.03" stroke="#e8e08c"/><path d="M20 0h1.03" stroke="#b4c8b0"/></g>
<g transform="translate(0,8.5)"><path d="M0 0h1.03" stroke="#a0bec0"/><path d="M1 0h1.03" stroke="#a4c0bc"/><path d="M2 0h1.03" stroke="#bccca8"/><path d="M3 0h1.03" stroke="#a4c0bc"/><path d="M4 0h1.03" stroke="#b0c8b2"/><path d="M5 0h1.03" stroke="#c4cea8"/><path d="M6 0h1.03" stroke="#98bcc8"/><path d="M7 0h1.03" stroke="#ece08a"/><path d="M8 0h1.03" stroke="#98bcc8"/><path d="M9 0h1.03" stroke="#94bad0"/><path d="M10 0h1.03" stroke="#a8c4b8"/><path d="M11 0h1.03" stroke="#94bad0"/><path d="M12 0h1.03" stroke="#ffffff"/><path d="M13 0h1.03" stroke="#b4c8b0"/><path d="M14 0h1.03" stroke="#c4cea8"/><path d="M15 0h1.03" stroke="#98bcc8"/><path d="M16 0h1.03" stroke="#84b0d6"/><path d="M17 0h1.03" stroke="#a4c0bc"/><path d="M18 0h1.03" stroke="#a4c0bc"/><path d="M19 0h1.03" stroke="#e0dc96"/><path d="M20 0h1.03" stroke="#98bcc8"/></g>
<g transform="translate(0,9.5)"><path d="M0 0h1.03" stroke="#eed488"/><path d="M1 0h1.03" stroke="#94bad0"/><path d="M2 0h1.03" stroke="#8cb6d4"/><path d="M3 0h1.03" stroke="#e8c082"/><path d="M4 0h1.03" stroke="#76a6cc"/><path d="M5 0h1.03" stroke="#eccc88"/><path d="M6 0h1.03" stroke="#eee088"/><path d="M7 0h1.03" stroke="#e8b880"/><path d="M8 0h1.03" stroke="#e8b880"/><path d="M9 0h1.03" stroke="#c8d0a6"/><path d="M10 0h1.03" stroke="#eed088"/><path d="M11 0h1.03" stroke="#ffffff"/><path d="M12 0h1.03" stroke="#a86274"/><path d="M13 0h1.03" stroke="#c8d0a6"/><path d="M14 0h1.03" stroke="#c8d0a6"/><path d="M15 0h1.03" stroke="#b8caae"/><path d="M16 0h1.03" stroke="#6c387e"/><path d="M17 0h1.03" stroke="#e0dc96"/><path d="M18 0h1.03" stroke="#e0dc96"/><path d="M19 0h1.03" stroke="#eed488"/><path d="M20 0h1.03" stroke="#ede08a"/></g>
<g transform="translate(0,10.5)"><path d="M0 0h1.03" stroke="#e09c78"/><path d="M1 0h1.03" stroke="#76a6cc"/><path d="M2 0h1.03" stroke="#eec886"/><path d="M3 0h1.03" stroke="#eed488"/><path d="M4 0h1.03" stroke="#c8d0a6"/><path d="M5 0h1.03" stroke="#eedf88"/><path d="M6 0h1.03" stroke="#eecc88"/><path d="M7 0h1.03" stroke="#ece08a"/><path d="M8 0h1.03" stroke="#ece08a"/><path d="M9 0h1.03" stroke="#a8c4b8"/><path d="M10 0h1.03" stroke="#ffffff"/><path d="M11 0h1.03" stroke="#e09c78"/><path d="M12 0h1.03" stroke="#ece08a"/><path d="M13 0h1.03" stroke="#c8d0a6"/><path d="M14 0h1.03" stroke="#b0c8b2"/><path d="M15 0h1.03" stroke="#eee08a"/><path d="M16 0h1.03" stroke="#e8b880"/><path d="M17 0h1.03" stroke="#e6b480"/><path d="M18 0h1.03" stroke="#c0cca8"/><path d="M19 0h1.03" stroke="#e8c082"/><path d="M20 0h1.03" stroke="#ede08a"/></g>
<g transform="translate(0,11.5)"><path d="M0 0h1.03" stroke="#eec886"/><path d="M1 0h1.03" stroke="#c4cea8"/><path d="M2 0h1.03" stroke="#e8e08c"/><path d="M3 0h1.03" stroke="#c8d0a6"/><path d="M4 0h1.03" stroke="#c8d0a6"/><path d="M5 0h1.03" stroke="#eed488"/><path d="M6 0h1.03" stroke="#d8d8a0"/><path d="M7 0h1.03" stroke="#e0dc96"/><path d="M8 0h1.03" stroke="#c8d0a6"/><path d="M9 0h1.03" stroke="#ffffff"/><path d="M10 0h1.03" stroke="#d0d4a2"/><path d="M11 0h1.03" stroke="#d0d4a2"/><path d="M12 0h1.03" stroke="#e0dc96"/><path d="M13 0h1.03" stroke="#e0dc96"/><path d="M14 0h1.03" stroke="#e8b880"/><path d="M15 0h1.03" stroke="#e8e08c"/><path d="M16 0h1.03" stroke="#c8d0a6"/><path d="M17 0h1.03" stroke="#c8d0a6"/><path d="M18 0h1.03" stroke="#eee888"/><path d="M19 0h1.03" stroke="#a8c4b8"/><path d="M20 0h1.03" stroke="#e0dc96"/></g>
<g transform="translate(0,12.5)"><path d="M0 0h1.03" stroke="#d4d6a0"/><path d="M1 0h1.03" stroke="#acc4b6"/><path d="M2 0h1.03" stroke="#e8bc80"/><path d="M3 0h1.03" stroke="#dcda9c"/><path d="M4 0h1.03" stroke="#dcda9c"/><path d="M5 0h1.03" stroke="#eed088"/><path d="M6 0h1.03" stroke="#eed088"/><path d="M7 0h1.03" stroke="#ac6474"/><path d="M8 0h1.03" stroke="#ffffff"/><path d="M9 0h1.03" stroke="#c8d0a6"/><path d="M10 0h1.03" stroke="#eae08c"/><path d="M11 0h1.03" stroke="#b06a74"/><path d="M12 0h1.03" stroke="#e0dc96"/><path d="M13 0h1.03" stroke="#eae08c"/><path d="M14 0h1.03" stroke="#eed488"/><path d="M15 0h1.03" stroke="#e8b880"/><path d="M16 0h1.03" stroke="#c8d0a6"/><path d="M17 0h1.03" stroke="#eec886"/><path d="M18 0h1.03" stroke="#e4a87c"/><path d="M19 0h1.03" stroke="#a8c4b8"/><path d="M20 0h1.03" stroke="#e0dc96"/></g>
<g transform="translate(0,13.5)"><path d="M0 0h1.03" stroke="#e4a87c"/><path d="M1 0h1.03" stroke="#eee08a"/><path d="M2 0h1.03" stroke="#b06a74"/><path d="M3 0h1.03" stroke="#e2dc96"/><path d="M4 0h1.03" stroke="#d4d6a0"/><path d="M5 0h1.03" stroke="#b06474"/><path d="M6 0h1.03" stroke="#d4d6a0"/><path d="M7 0h1.03" stroke="#ffffff"/><path d="M8 0h1.03" stroke="#a05a7c"/><path d="M9 0h1.03" stroke="#ccd2a6"/><path d="M10 0h1.03" stroke="#ece08a"/><path d="M11 0h1.03" stroke="#e8c082"/><path d="M12 0h1.03" stroke="#eed888"/><path d="M13 0h1.03" stroke="#d4d6a0"/><path d="M14 0h1.03" stroke="#e8c082"/><path d="M15 0h1.03" stroke="#e0dc96"/><path d="M16 0h1.03" stroke="#eee888"/><path d="M17 0h1.03" stroke="#e8c482"/><path d="M18 0h1.03" stroke="#d4d6a0"/><path d="M19 0h1.03" stroke="#d0d4a2"/><path d="M20 0h1.03" stroke="#d4d6a0"/></g>
<g transform="translate(0,14.5)"><path d="M0 0h1.03" stroke="#ecc888"/><path d="M1 0h1.03" stroke="#eee08a"/><path d="M2 0h1.03" stroke="#e0dc96"/><path d="M3 0h1.03" stroke="#eedf88"/><path d="M4 0h1.03" stroke="#eed088"/><path d="M5 0h1.03" stroke="#e4a87c"/><path d="M6 0h1.03" stroke="#ffffff"/><path d="M7 0h1.03" stroke="#eedc88"/><path d="M8 0h1.03" stroke="#ece08a"/><path d="M9 0h1.03" stroke="#ede088"/><path d="M10 0h1.03" stroke="#eccc88"/><path d="M11 0h1.03" stroke="#d88a72"/><path d="M12 0h1.03" stroke="#c87474"/><path d="M13 0h1.03" stroke="#eed888"/><path d="M14 0h1.03" stroke="#eed488"/><path d="M15 0h1.03" stroke="#dcda9c"/><path d="M16 0h1.03" stroke="#e0dc96"/><path d="M17 0h1.03" stroke="#ccd2a6"/><path d="M18 0h1.03" stroke="#c8d0a6"/><path d="M19 0h1.03" stroke="#dcda9c"/><path d="M20 0h1.03" stroke="#e0dc96"/></g>
<g transform="translate(0,15.5)"><path d="M0 0h1.03" stroke="#e8bc80"/><path d="M1 0h1.03" stroke="#bccca8"/><path d="M2 0h1.03" stroke="#e6de90"/><path d="M3 0h1.03" stroke="#e6b480"/><path d="M4 0h1.03" stroke="#eec886"/><path d="M5 0h1.03" stroke="#ffffff"/><path d="M6 0h1.03" stroke="#eed488"/><path d="M7 0h1.03" stroke="#eccc88"/><path d="M8 0h1.03" stroke="#eed888"/><path d="M9 0h1.03" stroke="#e0dc96"/><path d="M10 0h1.03" stroke="#eed888"/><path d="M11 0h1.03" stroke="#d88a72"/><path d="M12 0h1.03" stroke="#e8b880"/><path d="M13 0h1.03" stroke="#e8e08c"/><path d="M14 0h1.03" stroke="#e2dc96"/><path d="M15 0h1.03" stroke="#eee088"/><path d="M16 0h1.03" stroke="#eee088"/><path d="M17 0h1.03" stroke="#e8bc80"/><path d="M18 0h1.03" stroke="#c4cea8"/><path d="M19 0h1.03" stroke="#e4a87c"/><path d="M20 0h1.03" stroke="#eed488"/></g>
<g transform="translate(0,16.5)"><path d="M0 0h1.03" stroke="#eee088"/><path d="M1 0h1.03" stroke="#eed088"/><path d="M2 0h1.03" stroke="#6c387e"/><path d="M3 0h1.03" stroke="#e6b480"/><path d="M4 0h1.03" stroke="#ffffff"/><path d="M5 0h1.03" stroke="#e6b880"/><path d="M6 0h1.03" stroke="#e4a47c"/><path d="M7 0h1.03" stroke="#c8d0a6"/><path d="M8 0h1.03" stroke="#eee288"/><path d="M9 0h1.03" stroke="#eed088"/><path d="M10 0h1.03" stroke="#e8bc80"/><path d="M11 0h1.03" stroke="#e8bc80"/><path d="M12 0h1.03" stroke="#b46e74"/><path d="M13 0h1.03" stroke="#e0dc96"/><path d="M14 0h1.03" stroke="#e6de90"/><path d="M15 0h1.03" stroke="#eedc88"/><path d="M16 0h1.03" stroke="#d8846e"/><path d="M17 0h1.03" stroke="#e8bc80"/><path d="M18 0h1.03" stroke="#e8c080"/><path d="M19 0h1.03" stroke="#ccd2a6"/><path d="M20 0h1.03" stroke="#eee088"/></g>
<g transform="translate(0,17.5)"><path d="M0 0h1.03" stroke="#e09c78"/><path d="M1 0h1.03" stroke="#dc8c72"/><path d="M2 0h1.03" stroke="#e09c78"/><path d="M3 0h1.03" stroke="#ffffff"/><path d="M4 0h1.03" stroke="#e6b07e"/><path d="M5 0h1.03" stroke="#e6b07e"/><path d="M6 0h1.03" stroke="#ecc886"/><path d="M7 0h1.03" stroke="#c8d0a6"/><path d="M8 0h1.03" stroke="#eed488"/><path d="M9 0h1.03" stroke="#eed088"/><path d="M10 0h1.03" stroke="#e4a47c"/><path d="M11 0h1.03" stroke="#b8caae"/><path d="M12 0h1.03" stroke="#6c367e"/><path d="M13 0h1.03" stroke="#d0d4a2"/><path d="M14 0h1.03" stroke="#e2dc96"/><path d="M15 0h1.03" stroke="#d4d6a0"/><path d="M16 0h1.03" stroke="#eccc88"/><path d="M17 0h1.03" stroke="#e4a47c"/><path d="M18 0h1.03" stroke="#e4a47c"/><path d="M19 0h1.03" stroke="#a8c4b8"/><path d="M20 0h1.03" stroke="#eed488"/></g>
<g transform="translate(0,18.5)"><path d="M0 0h1.03" stroke="#e8b880"/><path d="M1 0h1.03" stroke="#b86874"/><path d="M2 0h1.03" stroke="#ffffff"/><path d="M3 0h1.03" stroke="#eed088"/><path d="M4 0h1.03" stroke="#8a4d7c"/><path d="M5 0h1.03" stroke="#e8bc80"/><path d="M6 0h1.03" stroke="#e6b880"/><path d="M7 0h1.03" stroke="#cc7870"/><path d="M8 0h1.03" stroke="#eed488"/><path d="M9 0h1.03" stroke="#d8d8a0"/><path d="M10 0h1.03" stroke="#e8c082"/><path d="M11 0h1.03" stroke="#e8c082"/><path d="M12 0h1.03" stroke="#dc8c72"/><path d="M13 0h1.03" stroke="#eed888"/><path d="M14 0h1.03" stroke="#eee088"/><path d="M15 0h1.03" stroke="#eedc88"/><path d="M16 0h1.03" stroke="#c8d0a6"/><path d="M17 0h1.03" stroke="#eed488"/><path d="M18 0h1.03" stroke="#e6b07e"/><path d="M19 0h1.03" stroke="#e0dc96"/><path d="M20 0h1.03" stroke="#eee088"/></g>
<g transform="translate(0,19.5)"><path d="M0 0h1.03" stroke="#6c387e"/><path d="M1 0h1.03" stroke="#ffffff"/><path d="M2 0h1.03" stroke="#6c387e"/><path d="M3 0h1.03" stroke="#eed488"/><path d="M4 0h1.03" stroke="#eecc88"/><path d="M5 0h1.03" stroke="#ece48a"/><path d="M6 0h1.03" stroke="#eae08c"/><path d="M7 0h1.03" stroke="#d4d6a0"/><path d="M8 0h1.03" stroke="#eed888"/><path d="M9 0h1.03" stroke="#e8bc80"/><path d="M10 0h1.03" stroke="#d4d6a0"/><path d="M11 0h1.03" stroke="#d07c70"/><path d="M12 0h1.03" stroke="#e4a87c"/><path d="M13 0h1.03" stroke="#eee08a"/><path d="M14 0h1.03" stroke="#eedc88"/><path d="M15 0h1.03" stroke="#d0d4a2"/><path d="M16 0h1.03" stroke="#e6b480"/><path d="M17 0h1.03" stroke="#eed488"/><path d="M18 0h1.03" stroke="#eed888"/><path d="M19 0h1.03" stroke="#d8d8a0"/><path d="M20 0h1.03" stroke="#eed488"/></g>
<g transform="translate(0,20.5)"><path d="M0 0h1.03" stroke="#ffffff"/><path d="M1 0h1.03" stroke="#7a3f80"/><path d="M2 0h1.03" stroke="#eee08a"/><path d="M3 0h1.03" stroke="#e6ac7e"/><path d="M4 0h1.03" stroke="#eee88a"/><path d="M5 0h1.03" stroke="#eec886"/><path d="M6 0h1.03" stroke="#eed488"/><path d="M7 0h1.03" stroke="#e4a07a"/><path d="M8 0h1.03" stroke="#e4dc94"/><path d="M9 0h1.03" stroke="#eed488"/><path d="M10 0h1.03" stroke="#dc9474"/><path d="M11 0h1.03" stroke="#dc9474"/><path d="M12 0h1.03" stroke="#6c387e"/><path d="M13 0h1.03" stroke="#eedc88"/><path d="M14 0h1.03" stroke="#eee28a"/><path d="M15 0h1.03" stroke="#e8c082"/><path d="M16 0h1.03" stroke="#e8bc80"/><path d="M17 0h1.03" stroke="#d0d4a2"/><path d="M18 0h1.03" stroke="#d0d4a2"/><path d="M19 0h1.03" stroke="#e2dc96"/><path d="M20 0h1.03" stroke="#e8b480"/></g>
</svg>
<rect x="2179.5" y="146.5" width="6.5" height="586" fill="#fff"/>
<rect x="1625" y="173" width="586" height="5" fill="#fff"/>
<rect x="1625" y="146.5" width="586" height="586" class="ax"/>

<path class="tk" stroke-width="2.4" d="M1614 160.5H1625M1614 188.4H1625M1614 216.3H1625M1614 244.2H1625M1614 272.1H1625M1614 300H1625M1614 327.9H1625M1614 355.8H1625M1614 383.7H1625M1614 411.6H1625M1614 439.5H1625M1614 467.4H1625M1614 495.3H1625M1614 523.2H1625M1614 551.1H1625M1614 579H1625M1614 606.9H1625M1614 634.8H1625M1614 662.7H1625M1614 690.6H1625M1614 718.5H1625"/>
<g font-size="24" text-anchor="end">
<text x="1603" y="169">others</text><text x="1603" y="197">Australia</text><text x="1603" y="225">Brazil</text><text x="1603" y="253">Saudi Arabia</text><text x="1603" y="281">Arab</text><text x="1603" y="308">Canada</text><text x="1603" y="336">Indonesia</text><text x="1603" y="364">US</text><text x="1603" y="392">Russia</text><text x="1603" y="420">UK</text><text x="1603" y="448">Turkey</text><text x="1603" y="476">India</text><text x="1603" y="504">Malaysia</text><text x="1603" y="532">Singapore</text><text x="1603" y="560">Netherlands</text><text x="1603" y="587">Italy</text><text x="1603" y="615">Korea</text><text x="1603" y="643">Japan</text><text x="1603" y="671">Thailand</text><text x="1603" y="699">China</text><text x="1603" y="727">Germany</text>
</g>
<path class="tk" stroke-width="2.4" d="M1639 733V744M1666.9 733V744M1694.8 733V744M1722.7 733V744M1750.6 733V744M1778.5 733V744M1806.4 733V744M1834.3 733V744M1862.2 733V744M1890.1 733V744M1918 733V744M1945.9 733V744M1973.8 733V744M2001.7 733V744M2029.6 733V744M2057.5 733V744M2085.4 733V744M2113.3 733V744M2141.2 733V744M2169.1 733V744M2197 733V744"/>
<g font-size="24" text-anchor="end">
<text transform="translate(1647.5,752) rotate(-90)">Germany</text><text transform="translate(1675.4,752) rotate(-90)">China</text><text transform="translate(1703.3,752) rotate(-90)">Thailand</text><text transform="translate(1731.2,752) rotate(-90)">Japan</text><text transform="translate(1759.1,752) rotate(-90)">Korea</text><text transform="translate(1787,752) rotate(-90)">Italy</text><text transform="translate(1814.9,752) rotate(-90)">Netherlands</text><text transform="translate(1842.8,752) rotate(-90)">Singapore</text><text transform="translate(1870.7,752) rotate(-90)">Malaysia</text><text transform="translate(1898.6,752) rotate(-90)">India</text><text transform="translate(1926.5,752) rotate(-90)">Turkey</text><text transform="translate(1954.4,752) rotate(-90)">UK</text><text transform="translate(1982.3,752) rotate(-90)">Russia</text><text transform="translate(2010.2,752) rotate(-90)">US</text><text transform="translate(2038.1,752) rotate(-90)">Indonesia</text><text transform="translate(2066,752) rotate(-90)">Canada</text><text transform="translate(2093.9,752) rotate(-90)">Arab</text><text transform="translate(2121.8,752) rotate(-90)">Saudi Arabia</text><text transform="translate(2149.7,752) rotate(-90)">Brazil</text><text transform="translate(2177.6,752) rotate(-90)">Australia</text><text transform="translate(2205.5,752) rotate(-90)">others</text>
</g>

<!-- b top hist -->
<g class="hb">
<rect x="1627" y="73.1" width="27.71" height="63.4"/><rect x="1654.7" y="114.1" width="27.71" height="22.4"/><rect x="1682.4" y="89.9" width="27.71" height="46.6"/><rect x="1710.1" y="115.2" width="27.71" height="21.3"/><rect x="1737.8" y="110.1" width="27.71" height="26.4"/><rect x="1765.6" y="94.4" width="27.71" height="42.1"/><rect x="1793.3" y="101.1" width="27.71" height="35.4"/><rect x="1821" y="91" width="27.71" height="45.5"/><rect x="1848.7" y="105.6" width="27.71" height="30.9"/><rect x="1876.4" y="106.8" width="27.71" height="29.7"/><rect x="1904.1" y="98.3" width="27.71" height="38.2"/><rect x="1931.8" y="84.3" width="27.71" height="52.2"/><rect x="1959.5" y="93.3" width="27.71" height="43.2"/><rect x="1987.2" y="95" width="27.71" height="41.5"/><rect x="2014.9" y="92.7" width="27.71" height="43.8"/><rect x="2042.7" y="88.8" width="27.71" height="47.7"/><rect x="2070.4" y="86" width="27.71" height="50.5"/><rect x="2098.1" y="91.6" width="27.71" height="44.9"/><rect x="2125.8" y="97.2" width="27.71" height="39.3"/><rect x="2153.5" y="91.6" width="27.71" height="44.9"/><rect x="2181.2" y="94.4" width="27.71" height="42.1"/>
</g>
<path class="ax" stroke-width="2.8" d="M1620 136.5H2215M2215 137.5V19.7M2215 21H2226M2215 79H2226"/>
<g font-size="24"><text x="2237" y="30.5">50</text><text x="2237" y="88.5">25</text></g>

<!-- b right hist -->
<g class="hb">
<rect x="2220" y="151" width="35" height="27.62"/><rect x="2220" y="178.6" width="16.7" height="27.62"/><rect x="2220" y="206.2" width="21.7" height="27.62"/><rect x="2220" y="233.9" width="25" height="27.62"/><rect x="2220" y="261.5" width="28.3" height="27.62"/><rect x="2220" y="289.1" width="30.7" height="27.62"/><rect x="2220" y="316.7" width="36" height="27.62"/><rect x="2220" y="344.3" width="37.3" height="27.62"/><rect x="2220" y="372" width="38.3" height="27.62"/><rect x="2220" y="399.6" width="43.3" height="27.62"/><rect x="2220" y="427.2" width="48.3" height="27.62"/><rect x="2220" y="454.8" width="50" height="27.62"/><rect x="2220" y="482.4" width="50.7" height="27.62"/><rect x="2220" y="510.1" width="53.3" height="27.62"/><rect x="2220" y="537.7" width="58.3" height="27.62"/><rect x="2220" y="565.3" width="61.7" height="27.62"/><rect x="2220" y="592.9" width="62.3" height="27.62"/><rect x="2220" y="620.5" width="63.3" height="27.62"/><rect x="2220" y="648.2" width="66" height="27.62"/><rect x="2220" y="675.8" width="66.7" height="27.62"/><rect x="2220" y="703.4" width="78.3" height="27.62"/>
</g>
<path class="ax" stroke-width="2.8" d="M2220 740V143H2338.4M2278 143V133M2337 144V133"/>
<g font-size="24" text-anchor="middle"><text x="2278" y="118.5">25</text><text x="2337" y="118.5">50</text></g>

<!-- b colorbar -->
<rect x="2416" y="170" width="23" height="557" fill="url(#gv)"/>
<polygon points="2416,170 2427.5,140.6 2439,170" fill="#6a3680"/>
<path class="ax" d="M2416 727V170L2427.5 140.6L2439 170V727Z"/>
<path class="tk" d="M2439 727H2450M2439 615.6H2450M2439 504.2H2450M2439 392.8H2450M2439 281.4H2450M2439 170H2450"/>
<g font-size="26" text-anchor="middle">
<text transform="translate(2480,727) rotate(-90)">0</text><text transform="translate(2480,615.6) rotate(-90)">10</text><text transform="translate(2480,504.2) rotate(-90)">20</text><text transform="translate(2480,392.8) rotate(-90)">30</text><text transform="translate(2480,281.4) rotate(-90)">40</text><text transform="translate(2480,170) rotate(-90)">50</text>
</g>
<g transform="translate(2536,667) rotate(-90)" font-size="31">
<text x="0" y="0" textLength="118" lengthAdjust="spacingAndGlyphs">TEEI-W,</text>
<text x="149" y="0" textLength="25" lengthAdjust="spacingAndGlyphs">g</text>
<text x="179" y="0" textLength="48" lengthAdjust="spacingAndGlyphs">CO</text>
<text x="228" y="7" font-size="21">2</text>
<text x="242" y="0" textLength="38" lengthAdjust="spacingAndGlyphs">ton</text>
<text x="287" y="-15" font-size="22" textLength="25" lengthAdjust="spacingAndGlyphs">−1</text>
<text x="327" y="0" textLength="50" lengthAdjust="spacingAndGlyphs">NM</text>
<text x="380" y="-15" font-size="22" textLength="27" lengthAdjust="spacingAndGlyphs">−1</text>
</g>

<!-- ================= PANEL C ================= -->
<text x="1398" y="1037" font-size="66" font-weight="bold">c</text>

<svg x="1630" y="1121" width="585" height="586" viewBox="0 0 21 21" preserveAspectRatio="none" stroke-width="1.03" fill="none">
<g transform="translate(0,.5)"><path d="M0 0h1.03" stroke="#7aa6cc"/><path d="M1 0h1.03" stroke="#ccd4a4"/><path d="M2 0h1.03" stroke="#d4d6a0"/><path d="M3 0h1.03" stroke="#eedf88"/><path d="M4 0h1.03" stroke="#94bad0"/><path d="M5 0h1.03" stroke="#dcda9c"/><path d="M6 0h1.03" stroke="#e0a07a"/><path d="M7 0h1.03" stroke="#94bad0"/><path d="M8 0h1.03" stroke="#94bad0"/><path d="M9 0h1.03" stroke="#ccd2a6"/><path d="M10 0h1.03" stroke="#eedf88"/><path d="M11 0h1.03" stroke="#ece088"/><path d="M12 0h1.03" stroke="#ecd088"/><path d="M13 0h1.03" stroke="#b4c8b0"/><path d="M14 0h1.03" stroke="#ccd2a6"/><path d="M15 0h1.03" stroke="#b4c8b0"/><path d="M16 0h1.03" stroke="#ccd2a6"/><path d="M17 0h1.03" stroke="#bccca8"/><path d="M18 0h1.03" stroke="#7eacd4"/><path d="M19 0h1.03" stroke="#8cb6d6"/><path d="M20 0h1.03" stroke="#ccd2a6"/></g>
<g transform="translate(0,1.5)"><path d="M0 0h1.03" stroke="#5a84b0"/><path d="M1 0h1.03" stroke="#5e8cb8"/><path d="M2 0h1.03" stroke="#5078a8"/><path d="M3 0h1.03" stroke="#5e8cb8"/><path d="M4 0h1.03" stroke="#46699a"/><path d="M5 0h1.03" stroke="#5e8cb8"/><path d="M6 0h1.03" stroke="#5078a8"/><path d="M7 0h1.03" stroke="#4a6e9e"/><path d="M8 0h1.03" stroke="#5078a8"/><path d="M9 0h1.03" stroke="#4a6e9e"/><path d="M10 0h1.03" stroke="#8ab2d6"/><path d="M11 0h1.03" stroke="#a0bec0"/><path d="M12 0h1.03" stroke="#80aed6"/><path d="M13 0h1.03" stroke="#6a9ac4"/><path d="M14 0h1.03" stroke="#a4c0bc"/><path d="M15 0h1.03" stroke="#4a6e9e"/><path d="M16 0h1.03" stroke="#4a6e9e"/><path d="M17 0h1.03" stroke="#6a9ac4"/><path d="M18 0h1.03" stroke="#46699a"/><path d="M19 0h1.03" stroke="#ffffff"/><path d="M20 0h1.03" stroke="#5a84b0"/></g>
<g transform="translate(0,2.5)"><path d="M0 0h1.03" stroke="#4a6e9e"/><path d="M1 0h1.03" stroke="#6292bc"/><path d="M2 0h1.03" stroke="#5a84b0"/><path d="M3 0h1.03" stroke="#6090bc"/><path d="M4 0h1.03" stroke="#5078a8"/><path d="M5 0h1.03" stroke="#88b4d8"/><path d="M6 0h1.03" stroke="#80aed6"/><path d="M7 0h1.03" stroke="#4a6e9e"/><path d="M8 0h1.03" stroke="#5078a8"/><path d="M9 0h1.03" stroke="#ece08a"/><path d="M10 0h1.03" stroke="#5a84b0"/><path d="M11 0h1.03" stroke="#6090bc"/><path d="M12 0h1.03" stroke="#5a84b0"/><path d="M13 0h1.03" stroke="#5078a8"/><path d="M14 0h1.03" stroke="#4a6e9e"/><path d="M15 0h1.03" stroke="#6090bc"/><path d="M16 0h1.03" stroke="#6292bc"/><path d="M17 0h1.03" stroke="#5a84b0"/><path d="M18 0h1.03" stroke="#ffffff"/><path d="M19 0h1.03" stroke="#4a6e9e"/><path d="M20 0h1.03" stroke="#6292bc"/></g>
<g transform="translate(0,3.5)"><path d="M0 0h1.03" stroke="#5e8cb8"/><path d="M1 0h1.03" stroke="#6292bc"/><path d="M2 0h1.03" stroke="#6a9ac4"/><path d="M3 0h1.03" stroke="#acc4b6"/><path d="M4 0h1.03" stroke="#5078a8"/><path d="M5 0h1.03" stroke="#88b4d8"/><path d="M6 0h1.03" stroke="#5e8cb8"/><path d="M7 0h1.03" stroke="#4a6e9e"/><path d="M8 0h1.03" stroke="#74a4cc"/><path d="M9 0h1.03" stroke="#5078a8"/><path d="M10 0h1.03" stroke="#98bcc8"/><path d="M11 0h1.03" stroke="#88b4d8"/><path d="M12 0h1.03" stroke="#c8d0a6"/><path d="M13 0h1.03" stroke="#88b4d8"/><path d="M14 0h1.03" stroke="#94bad0"/><path d="M15 0h1.03" stroke="#6292bc"/><path d="M16 0h1.03" stroke="#5078a8"/><path d="M17 0h1.03" stroke="#ffffff"/><path d="M18 0h1.03" stroke="#5e8cb8"/><path d="M19 0h1.03" stroke="#6a9ac4"/><path d="M20 0h1.03" stroke="#6292bc"/></g>
<g transform="translate(0,4.5)"><path d="M0 0h1.03" stroke="#6090bc"/><path d="M1 0h1.03" stroke="#5a84b0"/><path d="M2 0h1.03" stroke="#5a84b0"/><path d="M3 0h1.03" stroke="#88b4d8"/><path d="M4 0h1.03" stroke="#5a84b0"/><path d="M5 0h1.03" stroke="#5e8cb8"/><path d="M6 0h1.03" stroke="#8ab4d6"/><path d="M7 0h1.03" stroke="#5a84b0"/><path d="M8 0h1.03" stroke="#6a9ac4"/><path d="M9 0h1.03" stroke="#88b4d8"/><path d="M10 0h1.03" stroke="#5a84b0"/><path d="M11 0h1.03" stroke="#6292bc"/><path d="M12 0h1.03" stroke="#5e8cb8"/><path d="M13 0h1.03" stroke="#80aed6"/><path d="M14 0h1.03" stroke="#5078a8"/><path d="M15 0h1.03" stroke="#6a9ac4"/><path d="M16 0h1.03" stroke="#ffffff"/><path d="M17 0h1.03" stroke="#5078a8"/><path d="M18 0h1.03" stroke="#6a9ac4"/><path d="M19 0h1.03" stroke="#5a84b0"/><path d="M20 0h1.03" stroke="#6a9ac4"/></g>
<g transform="translate(0,5.5)"><path d="M0 0h1.03" stroke="#5078a8"/><path d="M1 0h1.03" stroke="#5a84b0"/><path d="M2 0h1.03" stroke="#5e8cb8"/><path d="M3 0h1.03" stroke="#e2dc96"/><path d="M4 0h1.03" stroke="#5a84b0"/><path d="M5 0h1.03" stroke="#5078a8"/><path d="M6 0h1.03" stroke="#e6b880"/><path d="M7 0h1.03" stroke="#5a84b0"/><path d="M8 0h1.03" stroke="#5e8cb8"/><path d="M9 0h1.03" stroke="#e09c78"/><path d="M10 0h1.03" stroke="#78a8d0"/><path d="M11 0h1.03" stroke="#80aed6"/><path d="M12 0h1.03" stroke="#5e8cb8"/><path d="M13 0h1.03" stroke="#5078a8"/><path d="M14 0h1.03" stroke="#6292bc"/><path d="M15 0h1.03" stroke="#ffffff"/><path d="M16 0h1.03" stroke="#6292bc"/><path d="M17 0h1.03" stroke="#6a9ac4"/><path d="M18 0h1.03" stroke="#80aed6"/><path d="M19 0h1.03" stroke="#4a6e9e"/><path d="M20 0h1.03" stroke="#7aaad0"/></g>
<g transform="translate(0,6.5)"><path d="M0 0h1.03" stroke="#a0bec0"/><path d="M1 0h1.03" stroke="#78a8d0"/><path d="M2 0h1.03" stroke="#5e8cb8"/><path d="M3 0h1.03" stroke="#acc4b6"/><path d="M4 0h1.03" stroke="#6090bc"/><path d="M5 0h1.03" stroke="#6a9ac4"/><path d="M6 0h1.03" stroke="#a0bec0"/><path d="M7 0h1.03" stroke="#5a84b0"/><path d="M8 0h1.03" stroke="#84b0d6"/><path d="M9 0h1.03" stroke="#98bcc8"/><path d="M10 0h1.03" stroke="#d4d6a0"/><path d="M11 0h1.03" stroke="#ccd2a6"/><path d="M12 0h1.03" stroke="#dc9474"/><path d="M13 0h1.03" stroke="#a4c0bc"/><path d="M14 0h1.03" stroke="#ffffff"/><path d="M15 0h1.03" stroke="#70a0c8"/><path d="M16 0h1.03" stroke="#8ab4d6"/><path d="M17 0h1.03" stroke="#80aed6"/><path d="M18 0h1.03" stroke="#4a6e9e"/><path d="M19 0h1.03" stroke="#e2dc96"/><path d="M20 0h1.03" stroke="#6a9ac4"/></g>
<g transform="translate(0,7.5)"><path d="M0 0h1.03" stroke="#b0c8b2"/><path d="M1 0h1.03" stroke="#5a84b0"/><path d="M2 0h1.03" stroke="#70a0c8"/><path d="M3 0h1.03" stroke="#e4a47c"/><path d="M4 0h1.03" stroke="#6090bc"/><path d="M5 0h1.03" stroke="#5a84b0"/><path d="M6 0h1.03" stroke="#7aaad0"/><path d="M7 0h1.03" stroke="#5078a8"/><path d="M8 0h1.03" stroke="#84b0d6"/><path d="M9 0h1.03" stroke="#5078a8"/><path d="M10 0h1.03" stroke="#6c387e"/><path d="M11 0h1.03" stroke="#d4d6a0"/><path d="M12 0h1.03" stroke="#eee088"/><path d="M13 0h1.03" stroke="#ffffff"/><path d="M14 0h1.03" stroke="#6a9ac4"/><path d="M15 0h1.03" stroke="#6090bc"/><path d="M16 0h1.03" stroke="#7aaad0"/><path d="M17 0h1.03" stroke="#a4c0bc"/><path d="M18 0h1.03" stroke="#4a6e9e"/><path d="M19 0h1.03" stroke="#5a84b0"/><path d="M20 0h1.03" stroke="#78a8d0"/></g>
<g transform="translate(0,8.5)"><path d="M0 0h1.03" stroke="#5a84b0"/><path d="M1 0h1.03" stroke="#5e8cb8"/><path d="M2 0h1.03" stroke="#5078a8"/><path d="M3 0h1.03" stroke="#d0d4a2"/><path d="M4 0h1.03" stroke="#5a84b0"/><path d="M5 0h1.03" stroke="#84b0d6"/><path d="M6 0h1.03" stroke="#6292bc"/><path d="M7 0h1.03" stroke="#5a84b0"/><path d="M8 0h1.03" stroke="#6090bc"/><path d="M9 0h1.03" stroke="#5a84b0"/><path d="M10 0h1.03" stroke="#eedf88"/><path d="M11 0h1.03" stroke="#94bad0"/><path d="M12 0h1.03" stroke="#ffffff"/><path d="M13 0h1.03" stroke="#b86e74"/><path d="M14 0h1.03" stroke="#b86e74"/><path d="M15 0h1.03" stroke="#6090bc"/><path d="M16 0h1.03" stroke="#5e8cb8"/><path d="M17 0h1.03" stroke="#e09c78"/><path d="M18 0h1.03" stroke="#5078a8"/><path d="M19 0h1.03" stroke="#6a9ac4"/><path d="M20 0h1.03" stroke="#98bcc8"/></g>
<g transform="translate(0,9.5)"><path d="M0 0h1.03" stroke="#6a9ac4"/><path d="M1 0h1.03" stroke="#6292bc"/><path d="M2 0h1.03" stroke="#6a9ac4"/><path d="M3 0h1.03" stroke="#eedc88"/><path d="M4 0h1.03" stroke="#6292bc"/><path d="M5 0h1.03" stroke="#ecde8c"/><path d="M6 0h1.03" stroke="#8cb6d4"/><path d="M7 0h1.03" stroke="#6292bc"/><path d="M8 0h1.03" stroke="#eedc88"/><path d="M9 0h1.03" stroke="#d08070"/><path d="M10 0h1.03" stroke="#e0dc96"/><path d="M11 0h1.03" stroke="#ffffff"/><path d="M12 0h1.03" stroke="#a8c4b8"/><path d="M13 0h1.03" stroke="#d08070"/><path d="M14 0h1.03" stroke="#eedf88"/><path d="M15 0h1.03" stroke="#70a0c8"/><path d="M16 0h1.03" stroke="#94bad0"/><path d="M17 0h1.03" stroke="#b06a74"/><path d="M18 0h1.03" stroke="#5a84b0"/><path d="M19 0h1.03" stroke="#c8d0a6"/><path d="M20 0h1.03" stroke="#94bad0"/></g>
<g transform="translate(0,10.5)"><path d="M0 0h1.03" stroke="#b0c8b2"/><path d="M1 0h1.03" stroke="#5078a8"/><path d="M2 0h1.03" stroke="#70a0c8"/><path d="M3 0h1.03" stroke="#eac484"/><path d="M4 0h1.03" stroke="#6292bc"/><path d="M5 0h1.03" stroke="#eedc88"/><path d="M6 0h1.03" stroke="#bccca8"/><path d="M7 0h1.03" stroke="#5a84b0"/><path d="M8 0h1.03" stroke="#94bad0"/><path d="M9 0h1.03" stroke="#a4c0bc"/><path d="M10 0h1.03" stroke="#ffffff"/><path d="M11 0h1.03" stroke="#eedf88"/><path d="M12 0h1.03" stroke="#e6b47e"/><path d="M13 0h1.03" stroke="#6c387e"/><path d="M14 0h1.03" stroke="#e8b880"/><path d="M15 0h1.03" stroke="#98bcc8"/><path d="M16 0h1.03" stroke="#b0c8b2"/><path d="M17 0h1.03" stroke="#e8c082"/><path d="M18 0h1.03" stroke="#5a84b0"/><path d="M19 0h1.03" stroke="#eed088"/><path d="M20 0h1.03" stroke="#c8d0a6"/></g>
<g transform="translate(0,11.5)"><path d="M0 0h1.03" stroke="#80aed6"/><path d="M1 0h1.03" stroke="#94bad0"/><path d="M2 0h1.03" stroke="#ecc886"/><path d="M3 0h1.03" stroke="#acc4b6"/><path d="M4 0h1.03" stroke="#ecc886"/><path d="M5 0h1.03" stroke="#eedf88"/><path d="M6 0h1.03" stroke="#8a4d7c"/><path d="M7 0h1.03" stroke="#ccd2a6"/><path d="M8 0h1.03" stroke="#e8e08c"/><path d="M9 0h1.03" stroke="#ffffff"/><path d="M10 0h1.03" stroke="#94bad0"/><path d="M11 0h1.03" stroke="#ccd2a6"/><path d="M12 0h1.03" stroke="#94bad0"/><path d="M13 0h1.03" stroke="#b06a74"/><path d="M14 0h1.03" stroke="#c0cca8"/><path d="M15 0h1.03" stroke="#ccd2a6"/><path d="M16 0h1.03" stroke="#74a4cc"/><path d="M17 0h1.03" stroke="#88b4d8"/><path d="M18 0h1.03" stroke="#eadf8c"/><path d="M19 0h1.03" stroke="#6a9ac4"/><path d="M20 0h1.03" stroke="#b8caae"/></g>
<g transform="translate(0,12.5)"><path d="M0 0h1.03" stroke="#eedb88"/><path d="M1 0h1.03" stroke="#4a70a0"/><path d="M2 0h1.03" stroke="#ecc084"/><path d="M3 0h1.03" stroke="#e6b07e"/><path d="M4 0h1.03" stroke="#c0cca8"/><path d="M5 0h1.03" stroke="#80aed6"/><path d="M6 0h1.03" stroke="#7aaad0"/><path d="M7 0h1.03" stroke="#a8c4b8"/><path d="M8 0h1.03" stroke="#ffffff"/><path d="M9 0h1.03" stroke="#e0dc96"/><path d="M10 0h1.03" stroke="#acc4b6"/><path d="M11 0h1.03" stroke="#e0a07a"/><path d="M12 0h1.03" stroke="#c0cca8"/><path d="M13 0h1.03" stroke="#e6b07e"/><path d="M14 0h1.03" stroke="#c0cca8"/><path d="M15 0h1.03" stroke="#e8e08c"/><path d="M16 0h1.03" stroke="#d4d6a0"/><path d="M17 0h1.03" stroke="#ccd2a6"/><path d="M18 0h1.03" stroke="#6a9ac4"/><path d="M19 0h1.03" stroke="#a0bec4"/><path d="M20 0h1.03" stroke="#ccd2a6"/></g>
<g transform="translate(0,13.5)"><path d="M0 0h1.03" stroke="#6090bc"/><path d="M1 0h1.03" stroke="#4a70a0"/><path d="M2 0h1.03" stroke="#eed088"/><path d="M3 0h1.03" stroke="#e2a07a"/><path d="M4 0h1.03" stroke="#8a4a7e"/><path d="M5 0h1.03" stroke="#6a9ac4"/><path d="M6 0h1.03" stroke="#cc7470"/><path d="M7 0h1.03" stroke="#ffffff"/><path d="M8 0h1.03" stroke="#88b4d8"/><path d="M9 0h1.03" stroke="#e6b07e"/><path d="M10 0h1.03" stroke="#c4cea8"/><path d="M11 0h1.03" stroke="#e6b07e"/><path d="M12 0h1.03" stroke="#e2dc96"/><path d="M13 0h1.03" stroke="#e2dc96"/><path d="M14 0h1.03" stroke="#bccca8"/><path d="M15 0h1.03" stroke="#ccd2a6"/><path d="M16 0h1.03" stroke="#eed088"/><path d="M17 0h1.03" stroke="#94bad0"/><path d="M18 0h1.03" stroke="#6090bc"/><path d="M19 0h1.03" stroke="#e0dc96"/><path d="M20 0h1.03" stroke="#eedf88"/></g>
<g transform="translate(0,14.5)"><path d="M0 0h1.03" stroke="#a0bec0"/><path d="M1 0h1.03" stroke="#eee088"/><path d="M2 0h1.03" stroke="#d8826e"/><path d="M3 0h1.03" stroke="#eec886"/><path d="M4 0h1.03" stroke="#eed088"/><path d="M5 0h1.03" stroke="#e0dc96"/><path d="M6 0h1.03" stroke="#ffffff"/><path d="M7 0h1.03" stroke="#ccd2a6"/><path d="M8 0h1.03" stroke="#e0dc96"/><path d="M9 0h1.03" stroke="#d4d6a0"/><path d="M10 0h1.03" stroke="#e8b880"/><path d="M11 0h1.03" stroke="#eecc88"/><path d="M12 0h1.03" stroke="#e09c78"/><path d="M13 0h1.03" stroke="#dc8c72"/><path d="M14 0h1.03" stroke="#6a9ac4"/><path d="M15 0h1.03" stroke="#a0bec0"/><path d="M16 0h1.03" stroke="#ccd2a6"/><path d="M17 0h1.03" stroke="#ecdf8a"/><path d="M18 0h1.03" stroke="#94bad0"/><path d="M19 0h1.03" stroke="#80aed6"/><path d="M20 0h1.03" stroke="#d4d6a0"/></g>
<g transform="translate(0,15.5)"><path d="M0 0h1.03" stroke="#a86070"/><path d="M1 0h1.03" stroke="#b4c8b0"/><path d="M2 0h1.03" stroke="#eec484"/><path d="M3 0h1.03" stroke="#d4d6a0"/><path d="M4 0h1.03" stroke="#8cb6d4"/><path d="M5 0h1.03" stroke="#ffffff"/><path d="M6 0h1.03" stroke="#eedf88"/><path d="M7 0h1.03" stroke="#e0dc96"/><path d="M8 0h1.03" stroke="#b8caae"/><path d="M9 0h1.03" stroke="#e8b47e"/><path d="M10 0h1.03" stroke="#eee288"/><path d="M11 0h1.03" stroke="#eee288"/><path d="M12 0h1.03" stroke="#dc8c72"/><path d="M13 0h1.03" stroke="#e0dc96"/><path d="M14 0h1.03" stroke="#b4c8b0"/><path d="M15 0h1.03" stroke="#eee088"/><path d="M16 0h1.03" stroke="#e4a47c"/><path d="M17 0h1.03" stroke="#b8caae"/><path d="M18 0h1.03" stroke="#c0cca8"/><path d="M19 0h1.03" stroke="#a0bec4"/><path d="M20 0h1.03" stroke="#eed088"/></g>
<g transform="translate(0,16.5)"><path d="M0 0h1.03" stroke="#98bcc8"/><path d="M1 0h1.03" stroke="#4a70a0"/><path d="M2 0h1.03" stroke="#8a4480"/><path d="M3 0h1.03" stroke="#6c387e"/><path d="M4 0h1.03" stroke="#ffffff"/><path d="M5 0h1.03" stroke="#6292bc"/><path d="M6 0h1.03" stroke="#924c7c"/><path d="M7 0h1.03" stroke="#9a5078"/><path d="M8 0h1.03" stroke="#e8e08c"/><path d="M9 0h1.03" stroke="#b06a72"/><path d="M10 0h1.03" stroke="#925478"/><path d="M11 0h1.03" stroke="#d07870"/><path d="M12 0h1.03" stroke="#eed088"/><path d="M13 0h1.03" stroke="#6292bc"/><path d="M14 0h1.03" stroke="#e4a87c"/><path d="M15 0h1.03" stroke="#dc8a72"/><path d="M16 0h1.03" stroke="#eedf88"/><path d="M17 0h1.03" stroke="#eecc88"/><path d="M18 0h1.03" stroke="#bccca8"/><path d="M19 0h1.03" stroke="#d8d8a0"/><path d="M20 0h1.03" stroke="#e4a07a"/></g>
<g transform="translate(0,17.5)"><path d="M0 0h1.03" stroke="#98bcc8"/><path d="M1 0h1.03" stroke="#eadf8c"/><path d="M2 0h1.03" stroke="#a8c4b8"/><path d="M3 0h1.03" stroke="#ffffff"/><path d="M4 0h1.03" stroke="#94bad0"/><path d="M5 0h1.03" stroke="#e2dc96"/><path d="M6 0h1.03" stroke="#e0dc96"/><path d="M7 0h1.03" stroke="#6292bc"/><path d="M8 0h1.03" stroke="#eedf88"/><path d="M9 0h1.03" stroke="#e4a07a"/><path d="M10 0h1.03" stroke="#6c387e"/><path d="M11 0h1.03" stroke="#6c367e"/><path d="M12 0h1.03" stroke="#6c367e"/><path d="M13 0h1.03" stroke="#6c367e"/><path d="M14 0h1.03" stroke="#6c367e"/><path d="M15 0h1.03" stroke="#6a9ac4"/><path d="M16 0h1.03" stroke="#eed488"/><path d="M17 0h1.03" stroke="#6c387e"/><path d="M18 0h1.03" stroke="#6292bc"/><path d="M19 0h1.03" stroke="#e8b880"/><path d="M20 0h1.03" stroke="#eedf88"/></g>
<g transform="translate(0,18.5)"><path d="M0 0h1.03" stroke="#94bad0"/><path d="M1 0h1.03" stroke="#c8d0a6"/><path d="M2 0h1.03" stroke="#ffffff"/><path d="M3 0h1.03" stroke="#eee088"/><path d="M4 0h1.03" stroke="#8a4480"/><path d="M5 0h1.03" stroke="#e4a47c"/><path d="M6 0h1.03" stroke="#e09474"/><path d="M7 0h1.03" stroke="#e8e08c"/><path d="M8 0h1.03" stroke="#e4a47c"/><path d="M9 0h1.03" stroke="#e8bc80"/><path d="M10 0h1.03" stroke="#6c367e"/><path d="M11 0h1.03" stroke="#ecc886"/><path d="M12 0h1.03" stroke="#e4a07a"/><path d="M13 0h1.03" stroke="#b4c8b0"/><path d="M14 0h1.03" stroke="#dc8070"/><path d="M15 0h1.03" stroke="#e4a07a"/><path d="M16 0h1.03" stroke="#e8b880"/><path d="M17 0h1.03" stroke="#b06470"/><path d="M18 0h1.03" stroke="#c8d0a6"/><path d="M19 0h1.03" stroke="#e4ac7c"/><path d="M20 0h1.03" stroke="#dc8a72"/></g>
<g transform="translate(0,19.5)"><path d="M0 0h1.03" stroke="#6c387e"/><path d="M1 0h1.03" stroke="#ffffff"/><path d="M2 0h1.03" stroke="#6c387e"/><path d="M3 0h1.03" stroke="#6c387e"/><path d="M4 0h1.03" stroke="#eadf8c"/><path d="M5 0h1.03" stroke="#8a4d7c"/><path d="M6 0h1.03" stroke="#804080"/><path d="M7 0h1.03" stroke="#eed888"/><path d="M8 0h1.03" stroke="#e0967a"/><path d="M9 0h1.03" stroke="#d47c70"/><path d="M10 0h1.03" stroke="#6c367e"/><path d="M11 0h1.03" stroke="#e4a47c"/><path d="M12 0h1.03" stroke="#b06272"/><path d="M13 0h1.03" stroke="#c87470"/><path d="M14 0h1.03" stroke="#6c367e"/><path d="M15 0h1.03" stroke="#d07870"/><path d="M16 0h1.03" stroke="#6c387e"/><path d="M17 0h1.03" stroke="#aa6070"/><path d="M18 0h1.03" stroke="#e4a07a"/><path d="M19 0h1.03" stroke="#7e4080"/><path d="M20 0h1.03" stroke="#b86a74"/></g>
<g transform="translate(0,20.5)"><path d="M0 0h1.03" stroke="#ffffff"/><path d="M1 0h1.03" stroke="#6c387e"/><path d="M2 0h1.03" stroke="#7a3f80"/><path d="M3 0h1.03" stroke="#d88870"/><path d="M4 0h1.03" stroke="#e0dc96"/><path d="M5 0h1.03" stroke="#88b4d8"/><path d="M6 0h1.03" stroke="#a0bec4"/><path d="M7 0h1.03" stroke="#6a9ac4"/><path d="M8 0h1.03" stroke="#b06c74"/><path d="M9 0h1.03" stroke="#6c367e"/><path d="M10 0h1.03" stroke="#723c80"/><path d="M11 0h1.03" stroke="#6c367e"/><path d="M12 0h1.03" stroke="#b8caae"/><path d="M13 0h1.03" stroke="#eee288"/><path d="M14 0h1.03" stroke="#98507a"/><path d="M15 0h1.03" stroke="#b8caae"/><path d="M16 0h1.03" stroke="#eed488"/><path d="M17 0h1.03" stroke="#8a4d7c"/><path d="M18 0h1.03" stroke="#b8caae"/><path d="M19 0h1.03" stroke="#7e4080"/><path d="M20 0h1.03" stroke="#e4a47c"/></g>
</svg>
<rect x="2184.5" y="1121" width="6.5" height="586" fill="#fff"/>
<rect x="1630" y="1147" width="585" height="6" fill="#fff"/>
<rect x="1630" y="1121" width="585" height="586" class="ax"/>

<path class="tk" stroke-width="2.4" d="M1619 1135H1630M1619 1162.9H1630M1619 1190.8H1630M1619 1218.7H1630M1619 1246.6H1630M1619 1274.5H1630M1619 1302.4H1630M1619 1330.3H1630M1619 1358.2H1630M1619 1386.1H1630M1619 1414H1630M1619 1441.9H1630M1619 1469.8H1630M1619 1497.7H1630M1619 1525.6H1630M1619 1553.5H1630M1619 1581.4H1630M1619 1609.3H1630M1619 1637.2H1630M1619 1665.1H1630M1619 1693H1630"/>
<g font-size="24" text-anchor="end">
<text x="1608" y="1143.5">others</text><text x="1608" y="1171.5">Japan</text><text x="1608" y="1199">Germany</text><text x="1608" y="1227">China</text><text x="1608" y="1255">Italy</text><text x="1608" y="1283">UK</text><text x="1608" y="1311">Korea</text><text x="1608" y="1339">Singapore</text><text x="1608" y="1367">Thailand</text><text x="1608" y="1394.5">India</text><text x="1608" y="1422.5">Malaysia</text><text x="1608" y="1450">Netherlands</text><text x="1608" y="1478">Arab</text><text x="1608" y="1506">US</text><text x="1608" y="1534">Turkey</text><text x="1608" y="1562">Saudi Arabia</text><text x="1608" y="1590">Canada</text><text x="1608" y="1618">Indonesia</text><text x="1608" y="1646">Brazil</text><text x="1608" y="1673.5">Russia</text><text x="1608" y="1701.5">Australia</text>
</g>
<path class="tk" stroke-width="2.4" d="M1643.9 1708V1718M1671.8 1708V1718M1699.6 1708V1718M1727.5 1708V1718M1755.4 1708V1718M1783.2 1708V1718M1811.1 1708V1718M1838.9 1708V1718M1866.8 1708V1718M1894.7 1708V1718M1922.5 1708V1718M1950.4 1708V1718M1978.2 1708V1718M2006.1 1708V1718M2034 1708V1718M2061.8 1708V1718M2089.7 1708V1718M2117.5 1708V1718M2145.4 1708V1718M2173.3 1708V1718M2201.1 1708V1718"/>
<g font-size="24" text-anchor="end">
<text transform="translate(1652.4,1729) rotate(-90)">Australia</text><text transform="translate(1680.3,1729) rotate(-90)">Russia</text><text transform="translate(1708.1,1729) rotate(-90)">Brazil</text><text transform="translate(1736,1729) rotate(-90)">Indonesia</text><text transform="translate(1763.9,1729) rotate(-90)">Canada</text><text transform="translate(1791.7,1729) rotate(-90)">Saudi Arabia</text><text transform="translate(1819.6,1729) rotate(-90)">Turkey</text><text transform="translate(1847.4,1729) rotate(-90)">US</text><text transform="translate(1875.3,1729) rotate(-90)">Arab</text><text transform="translate(1903.2,1729) rotate(-90)">Netherlands</text><text transform="translate(1931,1729) rotate(-90)">Malaysia</text><text transform="translate(1958.9,1729) rotate(-90)">India</text><text transform="translate(1986.7,1729) rotate(-90)">Thailand</text><text transform="translate(2014.6,1729) rotate(-90)">Singapore</text><text transform="translate(2042.5,1729) rotate(-90)">Korea</text><text transform="translate(2070.3,1729) rotate(-90)">UK</text><text transform="translate(2098.2,1729) rotate(-90)">Italy</text><text transform="translate(2126,1729) rotate(-90)">China</text><text transform="translate(2153.9,1729) rotate(-90)">Germany</text><text transform="translate(2181.8,1729) rotate(-90)">Japan</text><text transform="translate(2209.6,1729) rotate(-90)">others</text>
</g>

<!-- c top hist -->
<g class="hb">
<rect x="1632" y="1091.9" width="27.67" height="19.6"/><rect x="1659.7" y="1076.7" width="27.67" height="34.8"/><rect x="1687.3" y="1075.6" width="27.67" height="35.9"/><rect x="1715" y="1056.5" width="27.67" height="55"/><rect x="1742.7" y="1087.9" width="27.67" height="23.6"/><rect x="1770.4" y="1076.7" width="27.67" height="34.8"/><rect x="1798" y="1063.2" width="27.67" height="48.3"/><rect x="1825.7" y="1093.5" width="27.67" height="18"/><rect x="1853.4" y="1081.2" width="27.67" height="30.3"/><rect x="1881" y="1074.5" width="27.67" height="37"/><rect x="1908.7" y="1054.3" width="27.67" height="57.2"/><rect x="1936.4" y="1048.6" width="27.67" height="62.9"/><rect x="1964" y="1059.9" width="27.67" height="51.6"/><rect x="1991.7" y="1063.2" width="27.67" height="48.3"/><rect x="2019.4" y="1064.9" width="27.67" height="46.6"/><rect x="2047.1" y="1084" width="27.67" height="27.5"/><rect x="2074.7" y="1078.4" width="27.67" height="33.1"/><rect x="2102.4" y="1060.5" width="27.67" height="51"/><rect x="2130.1" y="1093" width="27.67" height="18.5"/><rect x="2157.7" y="1072.8" width="27.67" height="38.7"/><rect x="2185.4" y="1074.5" width="27.67" height="37"/>
</g>
<path class="ax" stroke-width="2.8" d="M1624 1111.5H2220M2220 1112.5V994M2220 995.3H2231M2220 1053.5H2231"/>
<g font-size="24"><text x="2242" y="1004.5">50</text><text x="2242" y="1063">25</text></g>

<!-- c right hist -->
<g class="hb">
<rect x="2225" y="1125" width="42.3" height="27.62"/><rect x="2225" y="1152.6" width="11" height="27.62"/><rect x="2225" y="1180.2" width="12.3" height="27.62"/><rect x="2225" y="1207.9" width="16.7" height="27.62"/><rect x="2225" y="1235.5" width="18.3" height="27.62"/><rect x="2225" y="1263.1" width="22.3" height="27.62"/><rect x="2225" y="1290.7" width="24.3" height="27.62"/><rect x="2225" y="1318.3" width="26.7" height="27.62"/><rect x="2225" y="1346" width="29" height="27.62"/><rect x="2225" y="1373.6" width="35" height="27.62"/><rect x="2225" y="1401.2" width="41" height="27.62"/><rect x="2225" y="1428.8" width="45.7" height="27.62"/><rect x="2225" y="1456.4" width="46" height="27.62"/><rect x="2225" y="1484.1" width="49" height="27.62"/><rect x="2225" y="1511.7" width="49" height="27.62"/><rect x="2225" y="1539.3" width="49.3" height="27.62"/><rect x="2225" y="1566.9" width="73.3" height="27.62"/><rect x="2225" y="1594.5" width="76.7" height="27.62"/><rect x="2225" y="1622.2" width="86" height="27.62"/><rect x="2225" y="1649.8" width="94.3" height="27.62"/><rect x="2225" y="1677.4" width="100.7" height="27.62"/>
</g>
<path class="ax" stroke-width="2.8" d="M2225 1716V1117.5H2343.4M2283 1117.5V1107M2342 1118.5V1107"/>
<g font-size="24" text-anchor="middle"><text x="2283" y="1093.5">25</text><text x="2342" y="1093.5">50</text></g>

<!-- c colorbar -->
<rect x="2419" y="1153" width="23" height="557" fill="url(#gv)"/>
<polygon points="2419,1153 2430.5,1125 2442,1153" fill="#6a3680"/>
<path class="ax" d="M2419 1710V1153L2430.5 1125L2442 1153V1710Z"/>
<path class="tk" d="M2442 1710H2453M2442 1598.6H2453M2442 1487.2H2453M2442 1375.8H2453M2442 1264.4H2453M2442 1153H2453"/>
<g font-size="26" text-anchor="middle">
<text transform="translate(2483,1710) rotate(-90)">0</text><text transform="translate(2483,1598.6) rotate(-90)">10</text><text transform="translate(2483,1487.2) rotate(-90)">20</text><text transform="translate(2483,1375.8) rotate(-90)">30</text><text transform="translate(2483,1264.4) rotate(-90)">40</text><text transform="translate(2483,1153) rotate(-90)">50</text>
</g>
<g transform="translate(2538,1663) rotate(-90)" font-size="31">
<text x="0" y="0" textLength="108" lengthAdjust="spacingAndGlyphs">TEEI-V,</text>
<text x="125" y="0" textLength="38" lengthAdjust="spacingAndGlyphs">mg</text>
<text x="176" y="0" textLength="49" lengthAdjust="spacingAndGlyphs">CO</text>
<text x="226" y="7" font-size="21">2</text>
<text x="245" y="0" textLength="58" lengthAdjust="spacingAndGlyphs">US$</text>
<text x="306" y="-15" font-size="22" textLength="30" lengthAdjust="spacingAndGlyphs">−1</text>
<text x="343" y="0" textLength="50" lengthAdjust="spacingAndGlyphs">NM</text>
<text x="396" y="-15" font-size="22" textLength="30" lengthAdjust="spacingAndGlyphs">−1</text>
</g>
</svg>
</body></html>
